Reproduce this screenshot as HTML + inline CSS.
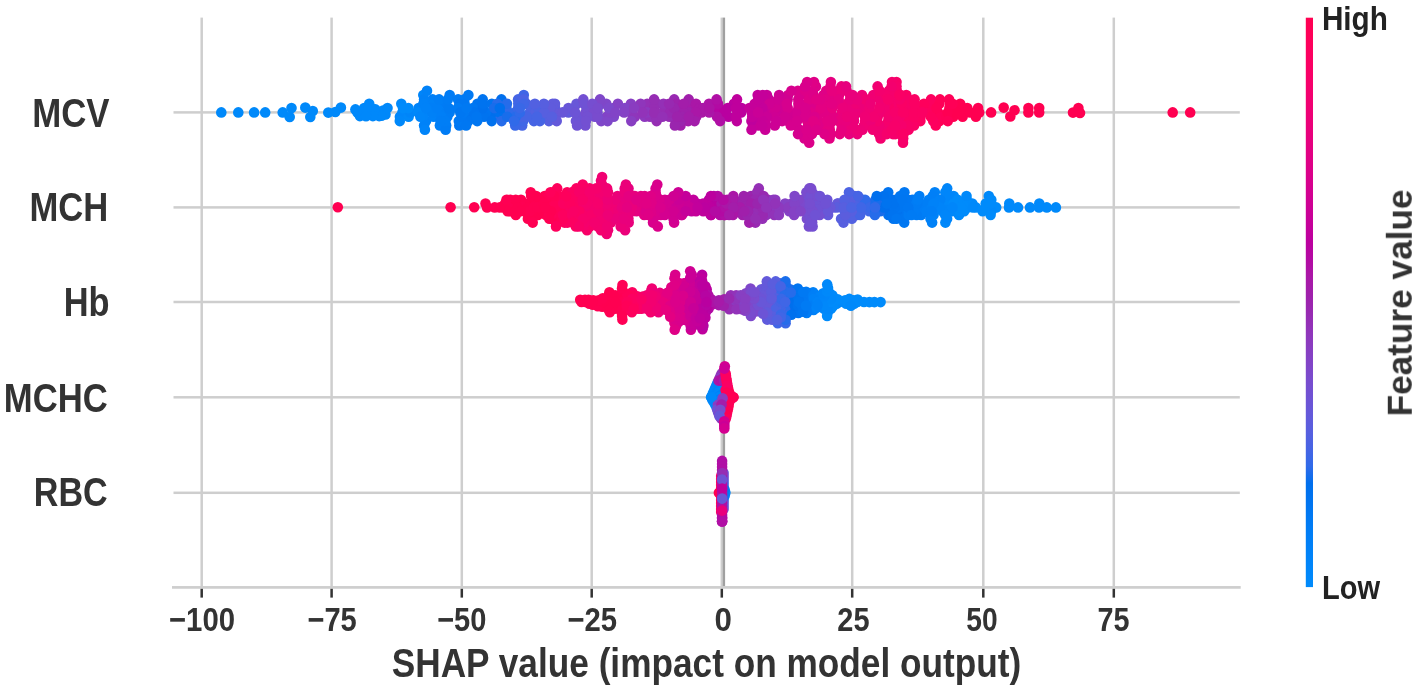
<!DOCTYPE html>
<html><head><meta charset="utf-8"><title>SHAP summary plot</title>
<style>
html,body{margin:0;padding:0;background:#fff;}
svg{display:block}
text{font-family:"Liberation Sans",sans-serif;font-weight:bold;}
</style></head><body>
<svg width="1417" height="690" viewBox="0 0 1417 690">
<rect x="0" y="0" width="1417" height="690" fill="#fff"/>
<rect x="200.45" y="17.6" width="2.5" height="569.60" fill="#cecece"/>
<rect x="330.35" y="17.6" width="2.5" height="569.60" fill="#cecece"/>
<rect x="460.55" y="17.6" width="2.5" height="569.60" fill="#cecece"/>
<rect x="590.45" y="17.6" width="2.5" height="569.60" fill="#cecece"/>
<rect x="720.55" y="17.6" width="2.5" height="569.60" fill="#cecece"/>
<rect x="850.95" y="17.6" width="2.5" height="569.60" fill="#cecece"/>
<rect x="982.05" y="17.6" width="2.5" height="569.60" fill="#cecece"/>
<rect x="1112.55" y="17.6" width="2.5" height="569.60" fill="#cecece"/>
<rect x="722.8" y="17.6" width="2.3" height="569.60" fill="#a0a0a0"/>
<rect x="173.5" y="111.15" width="1066.30" height="2.5" fill="#cecece"/>
<rect x="173.5" y="206.15" width="1066.30" height="2.5" fill="#cecece"/>
<rect x="173.5" y="300.75" width="1066.30" height="2.5" fill="#cecece"/>
<rect x="173.5" y="396.05" width="1066.30" height="2.5" fill="#cecece"/>
<rect x="173.5" y="491.55" width="1066.30" height="2.5" fill="#cecece"/>
<rect x="172.0" y="586.05" width="1068.70" height="2.7" fill="#cecece"/>
<rect x="200.45" y="588.8" width="2.5" height="8.8" fill="#333"/>
<rect x="330.35" y="588.8" width="2.5" height="8.8" fill="#333"/>
<rect x="460.55" y="588.8" width="2.5" height="8.8" fill="#333"/>
<rect x="590.45" y="588.8" width="2.5" height="8.8" fill="#333"/>
<rect x="720.55" y="588.8" width="2.5" height="8.8" fill="#333"/>
<rect x="850.95" y="588.8" width="2.5" height="8.8" fill="#333"/>
<rect x="982.05" y="588.8" width="2.5" height="8.8" fill="#333"/>
<rect x="1112.55" y="588.8" width="2.5" height="8.8" fill="#333"/>
<circle cx="849.5" cy="215.0" r="5.3" fill="#5261e1"/>
<circle cx="788.1" cy="121.1" r="5.3" fill="#d6008e"/>
<circle cx="665.4" cy="203.6" r="5.3" fill="#d10091"/>
<circle cx="849.1" cy="134.1" r="5.3" fill="#e7007e"/>
<circle cx="921.1" cy="215.0" r="5.3" fill="#007cf5"/>
<circle cx="654.6" cy="203.6" r="5.3" fill="#db008a"/>
<circle cx="828.1" cy="215.0" r="5.3" fill="#6459da"/>
<circle cx="745.8" cy="296.2" r="5.3" fill="#8244c7"/>
<circle cx="659.3" cy="302.0" r="5.3" fill="#eb007a"/>
<circle cx="690.1" cy="298.6" r="5.3" fill="#ca0097"/>
<circle cx="632.2" cy="302.0" r="5.3" fill="#fc0061"/>
<circle cx="700.1" cy="311.7" r="5.3" fill="#bc009f"/>
<circle cx="903.8" cy="121.1" r="5.3" fill="#fb0063"/>
<circle cx="574.1" cy="203.6" r="5.3" fill="#fc0061"/>
<circle cx="546.0" cy="215.0" r="5.3" fill="#ff0056"/>
<circle cx="490.3" cy="116.7" r="5.3" fill="#0073ef"/>
<circle cx="812.1" cy="192.2" r="5.3" fill="#7350d2"/>
<circle cx="574.2" cy="108.1" r="5.3" fill="#6f52d4"/>
<circle cx="589.8" cy="226.4" r="5.3" fill="#f7006a"/>
<circle cx="594.8" cy="116.7" r="5.3" fill="#764ed0"/>
<circle cx="691.4" cy="295.2" r="5.3" fill="#ca0097"/>
<circle cx="665.9" cy="305.9" r="5.3" fill="#e9007c"/>
<circle cx="630.9" cy="103.7" r="5.3" fill="#883fc2"/>
<circle cx="687.8" cy="103.7" r="5.3" fill="#a71aa9"/>
<circle cx="813.1" cy="292.3" r="5.3" fill="#0081f7"/>
<circle cx="575.9" cy="215.0" r="5.3" fill="#fb0063"/>
<circle cx="664.9" cy="199.8" r="5.3" fill="#d40090"/>
<circle cx="567.1" cy="192.2" r="5.3" fill="#fe005c"/>
<circle cx="794.1" cy="296.1" r="5.3" fill="#006fed"/>
<circle cx="865.6" cy="112.4" r="5.3" fill="#ee0076"/>
<circle cx="642.8" cy="207.4" r="5.3" fill="#e10084"/>
<circle cx="712.8" cy="203.6" r="5.3" fill="#b900a0"/>
<circle cx="859.1" cy="203.6" r="5.3" fill="#4664e4"/>
<circle cx="964.1" cy="112.4" r="5.3" fill="#ff0051"/>
<circle cx="816.1" cy="112.4" r="5.3" fill="#df0086"/>
<circle cx="648.1" cy="199.8" r="5.3" fill="#e10084"/>
<circle cx="678.8" cy="298.9" r="5.3" fill="#db008a"/>
<circle cx="826.2" cy="90.8" r="5.3" fill="#e30082"/>
<circle cx="952.0" cy="211.2" r="5.3" fill="#0088fa"/>
<circle cx="555.0" cy="108.1" r="5.3" fill="#5b5ddd"/>
<circle cx="908.1" cy="203.6" r="5.3" fill="#0079f3"/>
<circle cx="964.2" cy="211.2" r="5.3" fill="#008bfb"/>
<circle cx="658.1" cy="299.0" r="5.3" fill="#ee0076"/>
<circle cx="665.4" cy="211.2" r="5.3" fill="#d9008c"/>
<circle cx="641.8" cy="108.1" r="5.3" fill="#8a3cc0"/>
<circle cx="691.9" cy="108.1" r="5.3" fill="#a71aa9"/>
<circle cx="581.7" cy="199.8" r="5.3" fill="#f7006a"/>
<circle cx="755.4" cy="222.6" r="5.3" fill="#9829b1"/>
<circle cx="529.1" cy="203.6" r="5.3" fill="#ff0051"/>
<circle cx="649.3" cy="211.2" r="5.3" fill="#db008a"/>
<circle cx="602.3" cy="188.4" r="5.3" fill="#f4006e"/>
<circle cx="698.9" cy="315.0" r="5.3" fill="#c5009a"/>
<circle cx="812.6" cy="226.4" r="5.3" fill="#7350d2"/>
<circle cx="659.5" cy="305.4" r="5.3" fill="#e9007c"/>
<circle cx="690.9" cy="329.7" r="5.3" fill="#cf0093"/>
<circle cx="701.8" cy="295.2" r="5.3" fill="#c2009c"/>
<circle cx="932.1" cy="108.1" r="5.3" fill="#ff005a"/>
<circle cx="841.8" cy="125.4" r="5.3" fill="#e50080"/>
<circle cx="829.7" cy="305.4" r="5.3" fill="#008bfb"/>
<circle cx="791.3" cy="311.5" r="5.3" fill="#186deb"/>
<circle cx="800.0" cy="207.4" r="5.3" fill="#7d49cc"/>
<circle cx="548.9" cy="121.1" r="5.3" fill="#575fdf"/>
<circle cx="761.3" cy="289.3" r="5.3" fill="#6857d8"/>
<circle cx="888.8" cy="112.4" r="5.3" fill="#f6006c"/>
<circle cx="777.4" cy="291.7" r="5.3" fill="#5261e1"/>
<circle cx="613.8" cy="116.7" r="5.3" fill="#7f47c9"/>
<circle cx="581.8" cy="207.4" r="5.3" fill="#f80067"/>
<circle cx="683.3" cy="302.0" r="5.3" fill="#d10091"/>
<circle cx="680.2" cy="289.5" r="5.3" fill="#d6008e"/>
<circle cx="654.7" cy="199.8" r="5.3" fill="#d9008c"/>
<circle cx="699.3" cy="291.6" r="5.3" fill="#bf009d"/>
<circle cx="756.8" cy="121.1" r="5.3" fill="#c70098"/>
<circle cx="905.3" cy="103.7" r="5.3" fill="#f80067"/>
<circle cx="806.9" cy="218.8" r="5.3" fill="#794cce"/>
<circle cx="754.7" cy="196.0" r="5.3" fill="#9d22ac"/>
<circle cx="978.1" cy="108.1" r="5.3" fill="#ff0053"/>
<circle cx="1073.0" cy="112.6" r="5.3" fill="#ff0051"/>
<circle cx="559.0" cy="199.8" r="5.3" fill="#ff005a"/>
<circle cx="622.0" cy="211.2" r="5.3" fill="#eb007a"/>
<circle cx="953.3" cy="116.7" r="5.3" fill="#ff0051"/>
<circle cx="783.0" cy="207.4" r="5.3" fill="#8542c5"/>
<circle cx="758.0" cy="311.1" r="5.3" fill="#6f52d4"/>
<circle cx="592.4" cy="108.1" r="5.3" fill="#794cce"/>
<circle cx="718.7" cy="112.4" r="5.3" fill="#b604a2"/>
<circle cx="839.8" cy="134.1" r="5.3" fill="#e7007e"/>
<circle cx="1009.3" cy="203.6" r="5.3" fill="#0089fa"/>
<circle cx="675.6" cy="312.4" r="5.3" fill="#df0086"/>
<circle cx="690.7" cy="288.4" r="5.3" fill="#cd0095"/>
<circle cx="564.6" cy="222.6" r="5.3" fill="#fd005f"/>
<circle cx="660.7" cy="215.0" r="5.3" fill="#d6008e"/>
<circle cx="708.9" cy="199.8" r="5.3" fill="#b900a0"/>
<circle cx="532.3" cy="211.2" r="5.3" fill="#ff0051"/>
<circle cx="613.6" cy="108.1" r="5.3" fill="#8244c7"/>
<circle cx="891.2" cy="116.7" r="5.3" fill="#f4006e"/>
<circle cx="911.6" cy="121.1" r="5.3" fill="#fb0063"/>
<circle cx="596.9" cy="196.0" r="5.3" fill="#f4006e"/>
<circle cx="649.4" cy="108.1" r="5.3" fill="#9430b6"/>
<circle cx="658.9" cy="295.9" r="5.3" fill="#ec0078"/>
<circle cx="788.1" cy="95.1" r="5.3" fill="#d40090"/>
<circle cx="694.9" cy="284.8" r="5.3" fill="#c70098"/>
<circle cx="940.0" cy="99.4" r="5.3" fill="#ff0056"/>
<circle cx="624.7" cy="188.4" r="5.3" fill="#e9007c"/>
<circle cx="623.0" cy="305.5" r="5.3" fill="#ff0058"/>
<circle cx="537.9" cy="215.0" r="5.3" fill="#ff0051"/>
<circle cx="765.2" cy="129.7" r="5.3" fill="#ca0097"/>
<circle cx="877.6" cy="86.4" r="5.3" fill="#f10072"/>
<circle cx="556.0" cy="222.6" r="5.3" fill="#fe005c"/>
<circle cx="676.0" cy="326.2" r="5.3" fill="#db008a"/>
<circle cx="934.8" cy="192.2" r="5.3" fill="#0081f7"/>
<circle cx="695.6" cy="288.9" r="5.3" fill="#c5009a"/>
<circle cx="781.0" cy="295.8" r="5.3" fill="#3968e7"/>
<circle cx="379.2" cy="116.1" r="5.3" fill="#0088fa"/>
<circle cx="953.2" cy="108.1" r="5.3" fill="#ff0051"/>
<circle cx="931.6" cy="103.7" r="5.3" fill="#fd005f"/>
<circle cx="826.0" cy="108.1" r="5.3" fill="#df0086"/>
<circle cx="676.1" cy="308.9" r="5.3" fill="#dd0088"/>
<circle cx="889.8" cy="211.2" r="5.3" fill="#0071ee"/>
<circle cx="768.1" cy="199.8" r="5.3" fill="#9430b6"/>
<circle cx="766.2" cy="215.0" r="5.3" fill="#9233b9"/>
<circle cx="863.0" cy="108.1" r="5.3" fill="#ee0076"/>
<circle cx="854.9" cy="207.4" r="5.3" fill="#5261e1"/>
<circle cx="795.2" cy="290.3" r="5.3" fill="#0073ef"/>
<circle cx="945.4" cy="222.6" r="5.3" fill="#0088fa"/>
<circle cx="724.6" cy="215.0" r="5.3" fill="#ad13a6"/>
<circle cx="475.7" cy="112.4" r="5.3" fill="#0077f2"/>
<circle cx="705.9" cy="311.4" r="5.3" fill="#b604a2"/>
<circle cx="757.5" cy="299.0" r="5.3" fill="#764ed0"/>
<circle cx="895.7" cy="199.8" r="5.3" fill="#0074f0"/>
<circle cx="674.4" cy="322.8" r="5.3" fill="#df0086"/>
<circle cx="694.8" cy="320.6" r="5.3" fill="#c70098"/>
<circle cx="679.2" cy="283.3" r="5.3" fill="#db008a"/>
<circle cx="729.9" cy="302.0" r="5.3" fill="#9829b1"/>
<circle cx="687.8" cy="302.0" r="5.3" fill="#cd0095"/>
<circle cx="622.7" cy="295.2" r="5.3" fill="#ff0056"/>
<circle cx="702.1" cy="274.8" r="5.3" fill="#b900a0"/>
<circle cx="620.4" cy="203.6" r="5.3" fill="#ec0078"/>
<circle cx="686.4" cy="292.1" r="5.3" fill="#cd0095"/>
<circle cx="924.0" cy="207.4" r="5.3" fill="#0081f7"/>
<circle cx="888.9" cy="90.8" r="5.3" fill="#f30070"/>
<circle cx="607.2" cy="218.8" r="5.3" fill="#f10072"/>
<circle cx="402.4" cy="112.4" r="5.3" fill="#0088fa"/>
<circle cx="615.0" cy="207.4" r="5.3" fill="#ee0076"/>
<circle cx="928.9" cy="199.8" r="5.3" fill="#0082f8"/>
<circle cx="632.2" cy="292.3" r="5.3" fill="#fd005f"/>
<circle cx="753.0" cy="125.4" r="5.3" fill="#c70098"/>
<circle cx="780.2" cy="283.3" r="5.3" fill="#4066e6"/>
<circle cx="1039.3" cy="203.6" r="5.3" fill="#0089fa"/>
<circle cx="894.4" cy="103.7" r="5.3" fill="#f6006c"/>
<circle cx="891.0" cy="99.4" r="5.3" fill="#f4006e"/>
<circle cx="551.7" cy="207.4" r="5.3" fill="#ff0056"/>
<circle cx="811.0" cy="203.6" r="5.3" fill="#7350d2"/>
<circle cx="508.1" cy="207.4" r="5.3" fill="#ff0051"/>
<circle cx="849.6" cy="196.0" r="5.3" fill="#4c63e3"/>
<circle cx="683.0" cy="289.5" r="5.3" fill="#d10091"/>
<circle cx="798.3" cy="309.3" r="5.3" fill="#0073ef"/>
<circle cx="494.7" cy="207.4" r="5.3" fill="#ff0053"/>
<circle cx="439.9" cy="125.4" r="5.3" fill="#007ff7"/>
<circle cx="608.5" cy="298.8" r="5.3" fill="#ff0053"/>
<circle cx="602.2" cy="306.7" r="5.3" fill="#ff0051"/>
<circle cx="769.1" cy="99.4" r="5.3" fill="#ca0097"/>
<circle cx="585.3" cy="188.4" r="5.3" fill="#f80067"/>
<circle cx="797.9" cy="90.8" r="5.3" fill="#db008a"/>
<circle cx="368.4" cy="113.1" r="5.3" fill="#0088fa"/>
<circle cx="818.1" cy="129.7" r="5.3" fill="#df0086"/>
<circle cx="375.4" cy="109.4" r="5.3" fill="#0088fa"/>
<circle cx="741.6" cy="298.6" r="5.3" fill="#8d39be"/>
<circle cx="763.3" cy="103.7" r="5.3" fill="#c70098"/>
<circle cx="781.8" cy="99.4" r="5.3" fill="#d40090"/>
<circle cx="850.2" cy="302.0" r="5.3" fill="#008bfb"/>
<circle cx="773.3" cy="199.8" r="5.3" fill="#8d39be"/>
<circle cx="857.3" cy="134.1" r="5.3" fill="#eb007a"/>
<circle cx="557.3" cy="207.4" r="5.3" fill="#ff0058"/>
<circle cx="710.8" cy="215.0" r="5.3" fill="#b604a2"/>
<circle cx="426.0" cy="121.1" r="5.3" fill="#0082f8"/>
<circle cx="770.9" cy="211.2" r="5.3" fill="#9430b6"/>
<circle cx="521.0" cy="199.8" r="5.3" fill="#ff0051"/>
<circle cx="759.1" cy="215.0" r="5.3" fill="#9a25ae"/>
<circle cx="598.0" cy="207.4" r="5.3" fill="#f4006e"/>
<circle cx="791.6" cy="295.6" r="5.3" fill="#0071ee"/>
<circle cx="690.2" cy="271.3" r="5.3" fill="#cf0093"/>
<circle cx="713.0" cy="199.8" r="5.3" fill="#b900a0"/>
<circle cx="727.2" cy="199.8" r="5.3" fill="#ad13a6"/>
<circle cx="711.3" cy="299.3" r="5.3" fill="#ad13a6"/>
<circle cx="690.7" cy="203.6" r="5.3" fill="#c70098"/>
<circle cx="919.7" cy="207.4" r="5.3" fill="#007ff7"/>
<circle cx="713.9" cy="207.4" r="5.3" fill="#b900a0"/>
<circle cx="688.7" cy="99.4" r="5.3" fill="#a01fab"/>
<circle cx="701.9" cy="319.0" r="5.3" fill="#bf009d"/>
<circle cx="675.5" cy="121.1" r="5.3" fill="#9d22ac"/>
<circle cx="833.4" cy="207.4" r="5.3" fill="#605bdc"/>
<circle cx="560.2" cy="218.8" r="5.3" fill="#ff0058"/>
<circle cx="572.5" cy="192.2" r="5.3" fill="#fb0063"/>
<circle cx="730.7" cy="211.2" r="5.3" fill="#aa17a7"/>
<circle cx="757.5" cy="292.9" r="5.3" fill="#764ed0"/>
<circle cx="678.2" cy="196.0" r="5.3" fill="#d10091"/>
<circle cx="597.5" cy="112.4" r="5.3" fill="#764ed0"/>
<circle cx="758.1" cy="108.1" r="5.3" fill="#c5009a"/>
<circle cx="775.9" cy="284.8" r="5.3" fill="#575fdf"/>
<circle cx="982.6" cy="211.2" r="5.3" fill="#008bfb"/>
<circle cx="465.3" cy="116.7" r="5.3" fill="#0077f2"/>
<circle cx="636.3" cy="207.4" r="5.3" fill="#e30082"/>
<circle cx="555.5" cy="192.2" r="5.3" fill="#fe005c"/>
<circle cx="888.4" cy="215.0" r="5.3" fill="#0071ee"/>
<circle cx="580.4" cy="188.4" r="5.3" fill="#f80067"/>
<circle cx="418.6" cy="108.1" r="5.3" fill="#0084f9"/>
<circle cx="733.9" cy="103.7" r="5.3" fill="#bc009f"/>
<circle cx="799.4" cy="116.7" r="5.3" fill="#d6008e"/>
<circle cx="772.5" cy="302.0" r="5.3" fill="#5b5ddd"/>
<circle cx="869.4" cy="302.1" r="5.3" fill="#008bfb"/>
<circle cx="693.8" cy="288.2" r="5.3" fill="#c5009a"/>
<circle cx="694.4" cy="317.5" r="5.3" fill="#c70098"/>
<circle cx="860.6" cy="211.2" r="5.3" fill="#3968e7"/>
<circle cx="827.3" cy="199.8" r="5.3" fill="#6c54d6"/>
<circle cx="794.0" cy="308.5" r="5.3" fill="#0071ee"/>
<circle cx="811.6" cy="108.1" r="5.3" fill="#df0086"/>
<circle cx="696.1" cy="295.4" r="5.3" fill="#c70098"/>
<circle cx="857.2" cy="129.7" r="5.3" fill="#ee0076"/>
<circle cx="701.7" cy="288.4" r="5.3" fill="#bc009f"/>
<circle cx="798.7" cy="291.9" r="5.3" fill="#0074f0"/>
<circle cx="553.6" cy="203.6" r="5.3" fill="#ff005a"/>
<circle cx="762.6" cy="310.8" r="5.3" fill="#6857d8"/>
<circle cx="651.9" cy="288.6" r="5.3" fill="#f10072"/>
<circle cx="608.6" cy="295.5" r="5.3" fill="#ff0053"/>
<circle cx="736.3" cy="305.6" r="5.3" fill="#8d39be"/>
<circle cx="808.1" cy="125.4" r="5.3" fill="#db008a"/>
<circle cx="622.3" cy="302.0" r="5.3" fill="#ff0056"/>
<circle cx="606.6" cy="116.7" r="5.3" fill="#8244c7"/>
<circle cx="785.6" cy="323.2" r="5.3" fill="#3968e7"/>
<circle cx="510.4" cy="199.8" r="5.3" fill="#ff0053"/>
<circle cx="903.2" cy="138.4" r="5.3" fill="#f7006a"/>
<circle cx="776.1" cy="302.0" r="5.3" fill="#575fdf"/>
<circle cx="862.8" cy="199.8" r="5.3" fill="#4664e4"/>
<circle cx="581.7" cy="196.0" r="5.3" fill="#f7006a"/>
<circle cx="666.3" cy="295.9" r="5.3" fill="#e50080"/>
<circle cx="802.5" cy="295.5" r="5.3" fill="#0077f2"/>
<circle cx="904.4" cy="121.1" r="5.3" fill="#fa0065"/>
<circle cx="578.0" cy="116.7" r="5.3" fill="#6f52d4"/>
<circle cx="864.0" cy="125.4" r="5.3" fill="#ee0076"/>
<circle cx="371.8" cy="108.6" r="5.3" fill="#0088fa"/>
<circle cx="870.0" cy="203.6" r="5.3" fill="#3968e7"/>
<circle cx="777.4" cy="295.1" r="5.3" fill="#4664e4"/>
<circle cx="683.1" cy="312.6" r="5.3" fill="#d40090"/>
<circle cx="422.8" cy="116.7" r="5.3" fill="#0084f9"/>
<circle cx="265.2" cy="112.4" r="5.3" fill="#0089fa"/>
<circle cx="1039.2" cy="108.1" r="5.3" fill="#ff0051"/>
<circle cx="499.8" cy="116.7" r="5.3" fill="#266cea"/>
<circle cx="541.0" cy="116.7" r="5.3" fill="#5261e1"/>
<circle cx="802.2" cy="199.8" r="5.3" fill="#794cce"/>
<circle cx="661.6" cy="295.3" r="5.3" fill="#e9007c"/>
<circle cx="847.0" cy="103.7" r="5.3" fill="#eb007a"/>
<circle cx="754.4" cy="305.2" r="5.3" fill="#794cce"/>
<circle cx="503.7" cy="207.4" r="5.3" fill="#ff0051"/>
<circle cx="734.5" cy="203.6" r="5.3" fill="#a71aa9"/>
<circle cx="801.2" cy="203.6" r="5.3" fill="#7d49cc"/>
<circle cx="647.2" cy="103.7" r="5.3" fill="#9430b6"/>
<circle cx="702.2" cy="281.6" r="5.3" fill="#bc009f"/>
<circle cx="737.6" cy="211.2" r="5.3" fill="#a31daa"/>
<circle cx="789.2" cy="211.2" r="5.3" fill="#8542c5"/>
<circle cx="515.8" cy="215.0" r="5.3" fill="#ff0053"/>
<circle cx="892.5" cy="108.1" r="5.3" fill="#f4006e"/>
<circle cx="622.6" cy="199.8" r="5.3" fill="#e9007c"/>
<circle cx="679.0" cy="305.3" r="5.3" fill="#d6008e"/>
<circle cx="581.5" cy="302.0" r="5.3" fill="#ff0051"/>
<circle cx="576.5" cy="103.7" r="5.3" fill="#6857d8"/>
<circle cx="785.0" cy="112.4" r="5.3" fill="#d40090"/>
<circle cx="884.3" cy="108.1" r="5.3" fill="#f30070"/>
<circle cx="616.1" cy="298.6" r="5.3" fill="#ff0053"/>
<circle cx="906.3" cy="95.1" r="5.3" fill="#fb0063"/>
<circle cx="896.8" cy="99.4" r="5.3" fill="#f6006c"/>
<circle cx="856.7" cy="199.8" r="5.3" fill="#4664e4"/>
<circle cx="758.3" cy="125.4" r="5.3" fill="#c70098"/>
<circle cx="947.2" cy="188.4" r="5.3" fill="#0085f9"/>
<circle cx="446.2" cy="125.4" r="5.3" fill="#007ff7"/>
<circle cx="718.9" cy="108.1" r="5.3" fill="#b604a2"/>
<circle cx="724.1" cy="112.4" r="5.3" fill="#b900a0"/>
<circle cx="842.7" cy="116.7" r="5.3" fill="#e7007e"/>
<circle cx="585.6" cy="112.4" r="5.3" fill="#764ed0"/>
<circle cx="939.6" cy="121.1" r="5.3" fill="#ff0056"/>
<circle cx="837.5" cy="203.6" r="5.3" fill="#5b5ddd"/>
<circle cx="908.0" cy="116.7" r="5.3" fill="#fb0063"/>
<circle cx="841.0" cy="203.6" r="5.3" fill="#5b5ddd"/>
<circle cx="768.3" cy="298.6" r="5.3" fill="#605bdc"/>
<circle cx="728.1" cy="211.2" r="5.3" fill="#ad13a6"/>
<circle cx="517.6" cy="203.6" r="5.3" fill="#ff0053"/>
<circle cx="780.2" cy="103.7" r="5.3" fill="#d10091"/>
<circle cx="720.0" cy="215.0" r="5.3" fill="#b30aa3"/>
<circle cx="676.6" cy="199.8" r="5.3" fill="#d10091"/>
<circle cx="684.3" cy="203.6" r="5.3" fill="#cd0095"/>
<circle cx="526.4" cy="103.7" r="5.3" fill="#4664e4"/>
<circle cx="528.1" cy="215.0" r="5.3" fill="#ff0051"/>
<circle cx="826.4" cy="295.0" r="5.3" fill="#0088fa"/>
<circle cx="807.2" cy="121.1" r="5.3" fill="#df0086"/>
<circle cx="575.9" cy="121.1" r="5.3" fill="#6c54d6"/>
<circle cx="767.5" cy="284.8" r="5.3" fill="#6857d8"/>
<circle cx="831.0" cy="308.7" r="5.3" fill="#008bfb"/>
<circle cx="706.7" cy="289.4" r="5.3" fill="#b900a0"/>
<circle cx="585.4" cy="125.4" r="5.3" fill="#7350d2"/>
<circle cx="592.7" cy="218.8" r="5.3" fill="#f6006c"/>
<circle cx="899.5" cy="108.1" r="5.3" fill="#f7006a"/>
<circle cx="532.7" cy="199.8" r="5.3" fill="#ff0051"/>
<circle cx="659.9" cy="292.9" r="5.3" fill="#e9007c"/>
<circle cx="614.9" cy="308.7" r="5.3" fill="#ff0051"/>
<circle cx="537.4" cy="211.2" r="5.3" fill="#ff0053"/>
<circle cx="949.4" cy="108.1" r="5.3" fill="#ff0058"/>
<circle cx="841.7" cy="112.4" r="5.3" fill="#eb007a"/>
<circle cx="817.9" cy="203.6" r="5.3" fill="#6f52d4"/>
<circle cx="655.5" cy="302.0" r="5.3" fill="#ec0078"/>
<circle cx="790.4" cy="302.0" r="5.3" fill="#006fed"/>
<circle cx="518.1" cy="99.4" r="5.3" fill="#4664e4"/>
<circle cx="787.6" cy="99.4" r="5.3" fill="#d10091"/>
<circle cx="827.6" cy="312.5" r="5.3" fill="#0088fa"/>
<circle cx="932.1" cy="222.6" r="5.3" fill="#0081f7"/>
<circle cx="988.8" cy="196.0" r="5.3" fill="#0089fa"/>
<circle cx="756.4" cy="211.2" r="5.3" fill="#962db3"/>
<circle cx="809.3" cy="188.4" r="5.3" fill="#794cce"/>
<circle cx="399.9" cy="116.7" r="5.3" fill="#0086fa"/>
<circle cx="711.1" cy="215.0" r="5.3" fill="#bc009f"/>
<circle cx="776.3" cy="288.3" r="5.3" fill="#4664e4"/>
<circle cx="903.7" cy="129.7" r="5.3" fill="#f80067"/>
<circle cx="656.6" cy="121.1" r="5.3" fill="#962db3"/>
<circle cx="771.3" cy="312.6" r="5.3" fill="#5b5ddd"/>
<circle cx="774.8" cy="125.4" r="5.3" fill="#cd0095"/>
<circle cx="650.8" cy="291.9" r="5.3" fill="#f00074"/>
<circle cx="807.5" cy="302.0" r="5.3" fill="#007ef6"/>
<circle cx="702.5" cy="329.2" r="5.3" fill="#bf009d"/>
<circle cx="776.6" cy="112.4" r="5.3" fill="#cd0095"/>
<circle cx="810.5" cy="296.2" r="5.3" fill="#007cf5"/>
<circle cx="683.2" cy="207.4" r="5.3" fill="#cf0093"/>
<circle cx="784.9" cy="288.3" r="5.3" fill="#306ae9"/>
<circle cx="802.4" cy="308.5" r="5.3" fill="#0077f2"/>
<circle cx="857.4" cy="112.4" r="5.3" fill="#ec0078"/>
<circle cx="555.5" cy="116.7" r="5.3" fill="#5b5ddd"/>
<circle cx="591.1" cy="211.2" r="5.3" fill="#f4006e"/>
<circle cx="510.3" cy="211.2" r="5.3" fill="#ff0051"/>
<circle cx="862.0" cy="95.1" r="5.3" fill="#ee0076"/>
<circle cx="817.3" cy="298.6" r="5.3" fill="#0081f7"/>
<circle cx="798.5" cy="108.1" r="5.3" fill="#d9008c"/>
<circle cx="492.3" cy="112.4" r="5.3" fill="#006fed"/>
<circle cx="796.1" cy="125.4" r="5.3" fill="#d9008c"/>
<circle cx="760.2" cy="99.4" r="5.3" fill="#c5009a"/>
<circle cx="813.6" cy="309.9" r="5.3" fill="#0081f7"/>
<circle cx="798.3" cy="99.4" r="5.3" fill="#d6008e"/>
<circle cx="734.3" cy="199.8" r="5.3" fill="#a71aa9"/>
<circle cx="590.1" cy="203.6" r="5.3" fill="#f7006a"/>
<circle cx="644.7" cy="116.7" r="5.3" fill="#8d39be"/>
<circle cx="464.3" cy="99.4" r="5.3" fill="#0079f3"/>
<circle cx="687.9" cy="305.1" r="5.3" fill="#cf0093"/>
<circle cx="762.5" cy="304.9" r="5.3" fill="#6f52d4"/>
<circle cx="566.6" cy="207.4" r="5.3" fill="#fc0061"/>
<circle cx="585.0" cy="299.8" r="5.3" fill="#ff0051"/>
<circle cx="674.3" cy="215.0" r="5.3" fill="#cd0095"/>
<circle cx="912.3" cy="199.8" r="5.3" fill="#0079f3"/>
<circle cx="900.1" cy="203.6" r="5.3" fill="#0077f2"/>
<circle cx="901.7" cy="215.0" r="5.3" fill="#0076f1"/>
<circle cx="718.9" cy="300.3" r="5.3" fill="#a31daa"/>
<circle cx="696.9" cy="285.6" r="5.3" fill="#c70098"/>
<circle cx="567.5" cy="222.6" r="5.3" fill="#fc0061"/>
<circle cx="626.9" cy="298.1" r="5.3" fill="#ff0056"/>
<circle cx="949.0" cy="211.2" r="5.3" fill="#0088fa"/>
<circle cx="555.7" cy="215.0" r="5.3" fill="#ff0058"/>
<circle cx="408.6" cy="116.7" r="5.3" fill="#0089fa"/>
<circle cx="729.5" cy="305.6" r="5.3" fill="#9430b6"/>
<circle cx="818.6" cy="207.4" r="5.3" fill="#7350d2"/>
<circle cx="921.5" cy="211.2" r="5.3" fill="#007ef6"/>
<circle cx="657.0" cy="103.7" r="5.3" fill="#962db3"/>
<circle cx="857.6" cy="299.5" r="5.3" fill="#008bfb"/>
<circle cx="599.8" cy="192.2" r="5.3" fill="#f30070"/>
<circle cx="822.2" cy="211.2" r="5.3" fill="#7350d2"/>
<circle cx="527.9" cy="218.8" r="5.3" fill="#ff0051"/>
<circle cx="718.8" cy="305.1" r="5.3" fill="#a71aa9"/>
<circle cx="698.9" cy="298.6" r="5.3" fill="#c2009c"/>
<circle cx="679.2" cy="286.4" r="5.3" fill="#d9008c"/>
<circle cx="706.4" cy="292.6" r="5.3" fill="#b900a0"/>
<circle cx="719.8" cy="199.8" r="5.3" fill="#b604a2"/>
<circle cx="1010.3" cy="116.5" r="5.3" fill="#ff0051"/>
<circle cx="717.0" cy="116.7" r="5.3" fill="#b00fa5"/>
<circle cx="592.8" cy="304.7" r="5.3" fill="#ff0053"/>
<circle cx="759.2" cy="211.2" r="5.3" fill="#9430b6"/>
<circle cx="962.0" cy="203.6" r="5.3" fill="#008bfb"/>
<circle cx="819.8" cy="112.4" r="5.3" fill="#e10084"/>
<circle cx="1014.5" cy="110.2" r="5.3" fill="#ff0051"/>
<circle cx="865.1" cy="121.1" r="5.3" fill="#f00074"/>
<circle cx="681.4" cy="215.0" r="5.3" fill="#cf0093"/>
<circle cx="913.7" cy="108.1" r="5.3" fill="#fb0063"/>
<circle cx="786.5" cy="316.1" r="5.3" fill="#306ae9"/>
<circle cx="650.0" cy="116.7" r="5.3" fill="#9233b9"/>
<circle cx="894.2" cy="125.4" r="5.3" fill="#f4006e"/>
<circle cx="920.4" cy="121.1" r="5.3" fill="#fc0061"/>
<circle cx="762.9" cy="292.5" r="5.3" fill="#6857d8"/>
<circle cx="781.8" cy="320.7" r="5.3" fill="#3968e7"/>
<circle cx="674.2" cy="99.4" r="5.3" fill="#9829b1"/>
<circle cx="505.1" cy="203.6" r="5.3" fill="#ff0053"/>
<circle cx="702.5" cy="322.4" r="5.3" fill="#bf009d"/>
<circle cx="935.8" cy="125.4" r="5.3" fill="#fe005c"/>
<circle cx="767.5" cy="211.2" r="5.3" fill="#8f36bb"/>
<circle cx="695.6" cy="311.6" r="5.3" fill="#ca0097"/>
<circle cx="585.6" cy="211.2" r="5.3" fill="#f80067"/>
<circle cx="655.5" cy="310.7" r="5.3" fill="#f00074"/>
<circle cx="815.9" cy="86.4" r="5.3" fill="#dd0088"/>
<circle cx="810.3" cy="302.0" r="5.3" fill="#007bf4"/>
<circle cx="914.5" cy="207.4" r="5.3" fill="#007bf4"/>
<circle cx="682.7" cy="309.1" r="5.3" fill="#d6008e"/>
<circle cx="282.7" cy="112.4" r="5.3" fill="#0089fa"/>
<circle cx="586.7" cy="108.1" r="5.3" fill="#7350d2"/>
<circle cx="804.5" cy="138.4" r="5.3" fill="#d9008c"/>
<circle cx="811.6" cy="199.8" r="5.3" fill="#764ed0"/>
<circle cx="662.1" cy="308.7" r="5.3" fill="#e7007e"/>
<circle cx="700.3" cy="288.2" r="5.3" fill="#bf009d"/>
<circle cx="810.2" cy="215.0" r="5.3" fill="#764ed0"/>
<circle cx="991.3" cy="199.8" r="5.3" fill="#008bfb"/>
<circle cx="572.3" cy="192.2" r="5.3" fill="#fb0063"/>
<circle cx="932.7" cy="199.8" r="5.3" fill="#0082f8"/>
<circle cx="691.6" cy="211.2" r="5.3" fill="#c2009c"/>
<circle cx="544.6" cy="196.0" r="5.3" fill="#ff0051"/>
<circle cx="522.2" cy="125.4" r="5.3" fill="#4664e4"/>
<circle cx="636.6" cy="302.0" r="5.3" fill="#fc0061"/>
<circle cx="617.9" cy="103.7" r="5.3" fill="#8542c5"/>
<circle cx="509.7" cy="207.4" r="5.3" fill="#ff0051"/>
<circle cx="754.6" cy="308.5" r="5.3" fill="#764ed0"/>
<circle cx="811.6" cy="207.4" r="5.3" fill="#794cce"/>
<circle cx="523.2" cy="121.1" r="5.3" fill="#4066e6"/>
<circle cx="585.4" cy="302.0" r="5.3" fill="#ff0053"/>
<circle cx="477.4" cy="103.7" r="5.3" fill="#0074f0"/>
<circle cx="888.2" cy="192.2" r="5.3" fill="#0073ef"/>
<circle cx="962.6" cy="116.7" r="5.3" fill="#ff0051"/>
<circle cx="893.0" cy="121.1" r="5.3" fill="#f6006c"/>
<circle cx="803.4" cy="298.8" r="5.3" fill="#0077f2"/>
<circle cx="410.2" cy="112.4" r="5.3" fill="#0085f9"/>
<circle cx="888.2" cy="121.1" r="5.3" fill="#f4006e"/>
<circle cx="814.2" cy="211.2" r="5.3" fill="#764ed0"/>
<circle cx="762.9" cy="116.7" r="5.3" fill="#ca0097"/>
<circle cx="900.8" cy="95.1" r="5.3" fill="#f80067"/>
<circle cx="785.9" cy="309.1" r="5.3" fill="#306ae9"/>
<circle cx="845.4" cy="112.4" r="5.3" fill="#e9007c"/>
<circle cx="668.0" cy="203.6" r="5.3" fill="#d10091"/>
<circle cx="697.1" cy="203.6" r="5.3" fill="#c2009c"/>
<circle cx="877.7" cy="116.7" r="5.3" fill="#f10072"/>
<circle cx="892.4" cy="199.8" r="5.3" fill="#0071ee"/>
<circle cx="669.5" cy="207.4" r="5.3" fill="#cf0093"/>
<circle cx="653.1" cy="215.0" r="5.3" fill="#db008a"/>
<circle cx="578.2" cy="203.6" r="5.3" fill="#f80067"/>
<circle cx="437.7" cy="103.7" r="5.3" fill="#007ff7"/>
<circle cx="757.4" cy="302.0" r="5.3" fill="#7350d2"/>
<circle cx="775.7" cy="281.4" r="5.3" fill="#575fdf"/>
<circle cx="666.7" cy="302.0" r="5.3" fill="#e50080"/>
<circle cx="806.8" cy="95.1" r="5.3" fill="#d9008c"/>
<circle cx="811.0" cy="293.3" r="5.3" fill="#007ff7"/>
<circle cx="849.8" cy="125.4" r="5.3" fill="#e7007e"/>
<circle cx="554.4" cy="112.4" r="5.3" fill="#6459da"/>
<circle cx="862.5" cy="129.7" r="5.3" fill="#ee0076"/>
<circle cx="615.3" cy="305.4" r="5.3" fill="#ff0051"/>
<circle cx="525.0" cy="203.6" r="5.3" fill="#ff0051"/>
<circle cx="408.4" cy="108.1" r="5.3" fill="#008bfb"/>
<circle cx="719.8" cy="207.4" r="5.3" fill="#b604a2"/>
<circle cx="942.2" cy="203.6" r="5.3" fill="#0085f9"/>
<circle cx="823.3" cy="302.0" r="5.3" fill="#0086fa"/>
<circle cx="758.8" cy="188.4" r="5.3" fill="#9430b6"/>
<circle cx="897.0" cy="116.7" r="5.3" fill="#f80067"/>
<circle cx="585.9" cy="196.0" r="5.3" fill="#f7006a"/>
<circle cx="967.3" cy="108.1" r="5.3" fill="#ff0051"/>
<circle cx="1039.2" cy="112.4" r="5.3" fill="#ff0051"/>
<circle cx="310.3" cy="117.0" r="5.3" fill="#0089fa"/>
<circle cx="432.6" cy="99.4" r="5.3" fill="#007ff7"/>
<circle cx="931.0" cy="112.4" r="5.3" fill="#fd005f"/>
<circle cx="662.3" cy="305.4" r="5.3" fill="#e7007e"/>
<circle cx="900.2" cy="196.0" r="5.3" fill="#0076f1"/>
<circle cx="425.3" cy="112.4" r="5.3" fill="#0084f9"/>
<circle cx="654.1" cy="108.1" r="5.3" fill="#962db3"/>
<circle cx="908.5" cy="99.4" r="5.3" fill="#f80067"/>
<circle cx="693.4" cy="199.8" r="5.3" fill="#c2009c"/>
<circle cx="829.5" cy="95.1" r="5.3" fill="#e10084"/>
<circle cx="846.2" cy="303.7" r="5.3" fill="#008bfb"/>
<circle cx="813.7" cy="302.0" r="5.3" fill="#0081f7"/>
<circle cx="696.8" cy="314.8" r="5.3" fill="#c2009c"/>
<circle cx="806.0" cy="112.4" r="5.3" fill="#d9008c"/>
<circle cx="715.8" cy="203.6" r="5.3" fill="#b900a0"/>
<circle cx="810.9" cy="299.1" r="5.3" fill="#007ef6"/>
<circle cx="824.0" cy="308.7" r="5.3" fill="#0088fa"/>
<circle cx="926.1" cy="203.6" r="5.3" fill="#007ef6"/>
<circle cx="602.0" cy="184.6" r="5.3" fill="#f10072"/>
<circle cx="920.6" cy="116.7" r="5.3" fill="#fc0061"/>
<circle cx="854.2" cy="108.1" r="5.3" fill="#eb007a"/>
<circle cx="778.7" cy="103.7" r="5.3" fill="#d10091"/>
<circle cx="418.3" cy="112.4" r="5.3" fill="#0088fa"/>
<circle cx="894.9" cy="108.1" r="5.3" fill="#f80067"/>
<circle cx="767.2" cy="319.6" r="5.3" fill="#605bdc"/>
<circle cx="518.2" cy="108.1" r="5.3" fill="#4066e6"/>
<circle cx="694.5" cy="281.3" r="5.3" fill="#c5009a"/>
<circle cx="685.2" cy="199.8" r="5.3" fill="#ca0097"/>
<circle cx="687.7" cy="282.3" r="5.3" fill="#d10091"/>
<circle cx="681.4" cy="203.6" r="5.3" fill="#ca0097"/>
<circle cx="649.9" cy="207.4" r="5.3" fill="#dd0088"/>
<circle cx="609.4" cy="292.3" r="5.3" fill="#ff0051"/>
<circle cx="617.4" cy="196.0" r="5.3" fill="#ec0078"/>
<circle cx="751.8" cy="112.4" r="5.3" fill="#c5009a"/>
<circle cx="601.5" cy="222.6" r="5.3" fill="#f30070"/>
<circle cx="722.7" cy="207.4" r="5.3" fill="#b30aa3"/>
<circle cx="702.3" cy="305.4" r="5.3" fill="#c2009c"/>
<circle cx="621.8" cy="312.6" r="5.3" fill="#ff0051"/>
<circle cx="553.0" cy="192.2" r="5.3" fill="#ff0056"/>
<circle cx="533.9" cy="121.1" r="5.3" fill="#4664e4"/>
<circle cx="534.6" cy="199.8" r="5.3" fill="#ff0051"/>
<circle cx="906.9" cy="108.1" r="5.3" fill="#f80067"/>
<circle cx="515.2" cy="125.4" r="5.3" fill="#3968e7"/>
<circle cx="772.7" cy="287.8" r="5.3" fill="#5261e1"/>
<circle cx="447.3" cy="116.7" r="5.3" fill="#007cf5"/>
<circle cx="711.6" cy="304.7" r="5.3" fill="#ad13a6"/>
<circle cx="818.6" cy="121.1" r="5.3" fill="#e30082"/>
<circle cx="599.6" cy="207.4" r="5.3" fill="#f4006e"/>
<circle cx="513.1" cy="203.6" r="5.3" fill="#ff0053"/>
<circle cx="703.1" cy="302.0" r="5.3" fill="#bc009f"/>
<circle cx="885.1" cy="125.4" r="5.3" fill="#f6006c"/>
<circle cx="741.6" cy="108.1" r="5.3" fill="#bc009f"/>
<circle cx="568.5" cy="112.4" r="5.3" fill="#605bdc"/>
<circle cx="708.5" cy="308.7" r="5.3" fill="#b30aa3"/>
<circle cx="544.7" cy="199.8" r="5.3" fill="#ff0056"/>
<circle cx="653.3" cy="218.8" r="5.3" fill="#db008a"/>
<circle cx="938.1" cy="112.4" r="5.3" fill="#ff0056"/>
<circle cx="385.5" cy="114.4" r="5.3" fill="#0088fa"/>
<circle cx="672.6" cy="199.8" r="5.3" fill="#d40090"/>
<circle cx="815.9" cy="103.7" r="5.3" fill="#db008a"/>
<circle cx="601.2" cy="121.1" r="5.3" fill="#7f47c9"/>
<circle cx="853.4" cy="300.3" r="5.3" fill="#008bfb"/>
<circle cx="337.8" cy="207.3" r="5.3" fill="#ff0051"/>
<circle cx="1028.4" cy="112.4" r="5.3" fill="#ff0051"/>
<circle cx="785.6" cy="284.8" r="5.3" fill="#306ae9"/>
<circle cx="756.9" cy="116.7" r="5.3" fill="#c5009a"/>
<circle cx="766.8" cy="288.3" r="5.3" fill="#6459da"/>
<circle cx="788.9" cy="116.7" r="5.3" fill="#d10091"/>
<circle cx="705.4" cy="286.3" r="5.3" fill="#bc009f"/>
<circle cx="776.0" cy="305.5" r="5.3" fill="#5261e1"/>
<circle cx="670.5" cy="302.0" r="5.3" fill="#e30082"/>
<circle cx="536.1" cy="215.0" r="5.3" fill="#ff0051"/>
<circle cx="749.6" cy="309.0" r="5.3" fill="#7d49cc"/>
<circle cx="699.1" cy="295.1" r="5.3" fill="#c2009c"/>
<circle cx="922.3" cy="108.1" r="5.3" fill="#fb0063"/>
<circle cx="830.1" cy="99.4" r="5.3" fill="#e30082"/>
<circle cx="522.6" cy="207.4" r="5.3" fill="#ff0053"/>
<circle cx="678.8" cy="321.7" r="5.3" fill="#d9008c"/>
<circle cx="688.2" cy="121.1" r="5.3" fill="#a31daa"/>
<circle cx="614.4" cy="203.6" r="5.3" fill="#f00074"/>
<circle cx="823.5" cy="95.1" r="5.3" fill="#df0086"/>
<circle cx="340.9" cy="107.6" r="5.3" fill="#0089fa"/>
<circle cx="718.6" cy="211.2" r="5.3" fill="#b00fa5"/>
<circle cx="474.2" cy="207.3" r="5.3" fill="#ff0051"/>
<circle cx="766.9" cy="291.7" r="5.3" fill="#6459da"/>
<circle cx="445.6" cy="103.7" r="5.3" fill="#007cf5"/>
<circle cx="646.9" cy="112.4" r="5.3" fill="#8d39be"/>
<circle cx="917.5" cy="203.6" r="5.3" fill="#007cf5"/>
<circle cx="608.0" cy="230.2" r="5.3" fill="#ee0076"/>
<circle cx="733.3" cy="196.0" r="5.3" fill="#aa17a7"/>
<circle cx="682.8" cy="316.2" r="5.3" fill="#d40090"/>
<circle cx="795.0" cy="311.7" r="5.3" fill="#0073ef"/>
<circle cx="686.6" cy="288.9" r="5.3" fill="#cf0093"/>
<circle cx="869.2" cy="211.2" r="5.3" fill="#4066e6"/>
<circle cx="914.9" cy="199.8" r="5.3" fill="#007bf4"/>
<circle cx="713.9" cy="196.0" r="5.3" fill="#b30aa3"/>
<circle cx="464.6" cy="103.7" r="5.3" fill="#0077f2"/>
<circle cx="865.1" cy="199.8" r="5.3" fill="#306ae9"/>
<circle cx="369.2" cy="103.8" r="5.3" fill="#0088fa"/>
<circle cx="680.5" cy="125.4" r="5.3" fill="#a01fab"/>
<circle cx="607.6" cy="121.1" r="5.3" fill="#7f47c9"/>
<circle cx="751.0" cy="196.0" r="5.3" fill="#9a25ae"/>
<circle cx="771.6" cy="305.5" r="5.3" fill="#575fdf"/>
<circle cx="900.7" cy="211.2" r="5.3" fill="#0077f2"/>
<circle cx="838.2" cy="103.7" r="5.3" fill="#e50080"/>
<circle cx="549.9" cy="112.4" r="5.3" fill="#605bdc"/>
<circle cx="827.9" cy="116.7" r="5.3" fill="#e30082"/>
<circle cx="540.0" cy="108.1" r="5.3" fill="#575fdf"/>
<circle cx="904.8" cy="112.4" r="5.3" fill="#f80067"/>
<circle cx="696.0" cy="103.7" r="5.3" fill="#aa17a7"/>
<circle cx="657.3" cy="184.6" r="5.3" fill="#d9008c"/>
<circle cx="949.1" cy="203.6" r="5.3" fill="#0086fa"/>
<circle cx="896.5" cy="82.1" r="5.3" fill="#f80067"/>
<circle cx="378.0" cy="112.6" r="5.3" fill="#0088fa"/>
<circle cx="931.0" cy="99.4" r="5.3" fill="#fd005f"/>
<circle cx="335.3" cy="112.0" r="5.3" fill="#0089fa"/>
<circle cx="540.1" cy="203.6" r="5.3" fill="#ff0051"/>
<circle cx="824.3" cy="299.1" r="5.3" fill="#0088fa"/>
<circle cx="820.3" cy="203.6" r="5.3" fill="#6f52d4"/>
<circle cx="895.4" cy="134.1" r="5.3" fill="#f7006a"/>
<circle cx="898.7" cy="103.7" r="5.3" fill="#f6006c"/>
<circle cx="780.0" cy="289.5" r="5.3" fill="#4c63e3"/>
<circle cx="761.3" cy="307.9" r="5.3" fill="#6857d8"/>
<circle cx="542.4" cy="211.2" r="5.3" fill="#ff0051"/>
<circle cx="798.8" cy="295.3" r="5.3" fill="#0076f1"/>
<circle cx="596.1" cy="199.8" r="5.3" fill="#f30070"/>
<circle cx="485.9" cy="112.4" r="5.3" fill="#0074f0"/>
<circle cx="796.1" cy="112.4" r="5.3" fill="#d40090"/>
<circle cx="988.6" cy="207.4" r="5.3" fill="#0089fa"/>
<circle cx="606.6" cy="196.0" r="5.3" fill="#f30070"/>
<circle cx="529.9" cy="112.4" r="5.3" fill="#4664e4"/>
<circle cx="706.1" cy="308.3" r="5.3" fill="#b604a2"/>
<circle cx="819.7" cy="215.0" r="5.3" fill="#7350d2"/>
<circle cx="646.1" cy="302.0" r="5.3" fill="#f4006e"/>
<circle cx="723.2" cy="302.0" r="5.3" fill="#9a25ae"/>
<circle cx="740.4" cy="305.6" r="5.3" fill="#8a3cc0"/>
<circle cx="676.3" cy="288.4" r="5.3" fill="#dd0088"/>
<circle cx="640.9" cy="196.0" r="5.3" fill="#e30082"/>
<circle cx="798.4" cy="103.7" r="5.3" fill="#d9008c"/>
<circle cx="622.4" cy="319.6" r="5.3" fill="#ff0056"/>
<circle cx="593.5" cy="112.4" r="5.3" fill="#794cce"/>
<circle cx="939.3" cy="103.7" r="5.3" fill="#ff0058"/>
<circle cx="701.6" cy="112.4" r="5.3" fill="#aa17a7"/>
<circle cx="433.6" cy="116.7" r="5.3" fill="#0082f8"/>
<circle cx="940.3" cy="116.7" r="5.3" fill="#ff005a"/>
<circle cx="869.7" cy="125.4" r="5.3" fill="#f00074"/>
<circle cx="440.9" cy="112.4" r="5.3" fill="#007ef6"/>
<circle cx="557.2" cy="188.4" r="5.3" fill="#fe005c"/>
<circle cx="830.9" cy="112.4" r="5.3" fill="#e30082"/>
<circle cx="589.4" cy="303.7" r="5.3" fill="#ff0053"/>
<circle cx="676.7" cy="103.7" r="5.3" fill="#9d22ac"/>
<circle cx="768.0" cy="302.0" r="5.3" fill="#605bdc"/>
<circle cx="904.4" cy="192.2" r="5.3" fill="#0077f2"/>
<circle cx="914.0" cy="125.4" r="5.3" fill="#fa0065"/>
<circle cx="975.9" cy="207.4" r="5.3" fill="#008bfb"/>
<circle cx="916.6" cy="215.0" r="5.3" fill="#007bf4"/>
<circle cx="730.8" cy="295.3" r="5.3" fill="#9430b6"/>
<circle cx="798.4" cy="312.9" r="5.3" fill="#0074f0"/>
<circle cx="812.2" cy="222.6" r="5.3" fill="#7350d2"/>
<circle cx="893.0" cy="134.1" r="5.3" fill="#f6006c"/>
<circle cx="878.5" cy="129.7" r="5.3" fill="#f4006e"/>
<circle cx="825.6" cy="99.4" r="5.3" fill="#e30082"/>
<circle cx="757.7" cy="95.1" r="5.3" fill="#c2009c"/>
<circle cx="615.6" cy="199.8" r="5.3" fill="#ec0078"/>
<circle cx="631.1" cy="112.4" r="5.3" fill="#8d39be"/>
<circle cx="952.2" cy="199.8" r="5.3" fill="#0086fa"/>
<circle cx="680.1" cy="311.9" r="5.3" fill="#d9008c"/>
<circle cx="880.2" cy="112.4" r="5.3" fill="#f10072"/>
<circle cx="777.1" cy="312.6" r="5.3" fill="#4664e4"/>
<circle cx="694.5" cy="298.6" r="5.3" fill="#c5009a"/>
<circle cx="691.1" cy="281.5" r="5.3" fill="#ca0097"/>
<circle cx="869.9" cy="207.4" r="5.3" fill="#3968e7"/>
<circle cx="854.7" cy="196.0" r="5.3" fill="#5261e1"/>
<circle cx="515.1" cy="112.4" r="5.3" fill="#3968e7"/>
<circle cx="847.2" cy="129.7" r="5.3" fill="#eb007a"/>
<circle cx="697.2" cy="302.0" r="5.3" fill="#c70098"/>
<circle cx="708.1" cy="298.6" r="5.3" fill="#b30aa3"/>
<circle cx="704.9" cy="314.6" r="5.3" fill="#b604a2"/>
<circle cx="892.2" cy="90.8" r="5.3" fill="#f7006a"/>
<circle cx="780.3" cy="311.4" r="5.3" fill="#4664e4"/>
<circle cx="518.3" cy="103.7" r="5.3" fill="#4066e6"/>
<circle cx="899.9" cy="116.7" r="5.3" fill="#f6006c"/>
<circle cx="628.4" cy="218.8" r="5.3" fill="#e9007c"/>
<circle cx="777.7" cy="323.2" r="5.3" fill="#4066e6"/>
<circle cx="571.9" cy="196.0" r="5.3" fill="#fc0061"/>
<circle cx="766.9" cy="95.1" r="5.3" fill="#c70098"/>
<circle cx="699.7" cy="108.1" r="5.3" fill="#aa17a7"/>
<circle cx="573.3" cy="199.8" r="5.3" fill="#fb0063"/>
<circle cx="833.3" cy="116.7" r="5.3" fill="#e30082"/>
<circle cx="484.0" cy="116.7" r="5.3" fill="#0073ef"/>
<circle cx="424.1" cy="125.4" r="5.3" fill="#0082f8"/>
<circle cx="750.5" cy="302.0" r="5.3" fill="#7d49cc"/>
<circle cx="706.3" cy="203.6" r="5.3" fill="#bf009d"/>
<circle cx="896.8" cy="90.8" r="5.3" fill="#f7006a"/>
<circle cx="709.0" cy="103.7" r="5.3" fill="#ad13a6"/>
<circle cx="807.4" cy="295.1" r="5.3" fill="#007cf5"/>
<circle cx="838.7" cy="90.8" r="5.3" fill="#e7007e"/>
<circle cx="911.3" cy="207.4" r="5.3" fill="#007bf4"/>
<circle cx="640.6" cy="103.7" r="5.3" fill="#8f36bb"/>
<circle cx="959.0" cy="215.0" r="5.3" fill="#0089fa"/>
<circle cx="809.7" cy="199.8" r="5.3" fill="#764ed0"/>
<circle cx="829.8" cy="129.7" r="5.3" fill="#e7007e"/>
<circle cx="768.8" cy="112.4" r="5.3" fill="#cf0093"/>
<circle cx="816.4" cy="295.3" r="5.3" fill="#0082f8"/>
<circle cx="636.1" cy="203.6" r="5.3" fill="#e10084"/>
<circle cx="506.4" cy="108.1" r="5.3" fill="#306ae9"/>
<circle cx="936.5" cy="108.1" r="5.3" fill="#ff0058"/>
<circle cx="691.2" cy="322.8" r="5.3" fill="#c70098"/>
<circle cx="655.6" cy="192.2" r="5.3" fill="#dd0088"/>
<circle cx="830.5" cy="86.4" r="5.3" fill="#e30082"/>
<circle cx="728.5" cy="116.7" r="5.3" fill="#b900a0"/>
<circle cx="830.9" cy="82.1" r="5.3" fill="#e50080"/>
<circle cx="790.4" cy="305.2" r="5.3" fill="#006fed"/>
<circle cx="687.9" cy="285.6" r="5.3" fill="#d10091"/>
<circle cx="696.8" cy="282.3" r="5.3" fill="#bf009d"/>
<circle cx="824.5" cy="112.4" r="5.3" fill="#e10084"/>
<circle cx="817.6" cy="116.7" r="5.3" fill="#e10084"/>
<circle cx="530.7" cy="108.1" r="5.3" fill="#4c63e3"/>
<circle cx="900.5" cy="203.6" r="5.3" fill="#0077f2"/>
<circle cx="904.2" cy="222.6" r="5.3" fill="#0077f2"/>
<circle cx="742.8" cy="199.8" r="5.3" fill="#a01fab"/>
<circle cx="609.8" cy="312.3" r="5.3" fill="#ff0053"/>
<circle cx="827.2" cy="305.5" r="5.3" fill="#0089fa"/>
<circle cx="681.9" cy="108.1" r="5.3" fill="#a31daa"/>
<circle cx="827.4" cy="302.0" r="5.3" fill="#0089fa"/>
<circle cx="507.6" cy="211.2" r="5.3" fill="#ff0051"/>
<circle cx="603.7" cy="211.2" r="5.3" fill="#f10072"/>
<circle cx="571.8" cy="218.8" r="5.3" fill="#fb0063"/>
<circle cx="854.7" cy="302.0" r="5.3" fill="#008bfb"/>
<circle cx="841.4" cy="86.4" r="5.3" fill="#eb007a"/>
<circle cx="580.2" cy="299.8" r="5.3" fill="#ff0051"/>
<circle cx="814.4" cy="305.9" r="5.3" fill="#0081f7"/>
<circle cx="659.4" cy="308.9" r="5.3" fill="#ec0078"/>
<circle cx="622.3" cy="309.0" r="5.3" fill="#ff0053"/>
<circle cx="948.7" cy="207.4" r="5.3" fill="#0085f9"/>
<circle cx="696.0" cy="211.2" r="5.3" fill="#c5009a"/>
<circle cx="690.2" cy="319.3" r="5.3" fill="#cd0095"/>
<circle cx="768.6" cy="309.0" r="5.3" fill="#605bdc"/>
<circle cx="790.8" cy="125.4" r="5.3" fill="#d6008e"/>
<circle cx="528.0" cy="207.4" r="5.3" fill="#ff0051"/>
<circle cx="791.5" cy="203.6" r="5.3" fill="#8542c5"/>
<circle cx="790.0" cy="308.4" r="5.3" fill="#006fed"/>
<circle cx="780.9" cy="292.6" r="5.3" fill="#3968e7"/>
<circle cx="910.9" cy="203.6" r="5.3" fill="#0077f2"/>
<circle cx="458.1" cy="99.4" r="5.3" fill="#007bf4"/>
<circle cx="845.0" cy="302.0" r="5.3" fill="#008bfb"/>
<circle cx="856.8" cy="211.2" r="5.3" fill="#5261e1"/>
<circle cx="551.2" cy="218.8" r="5.3" fill="#ff0053"/>
<circle cx="622.2" cy="298.6" r="5.3" fill="#ff0056"/>
<circle cx="806.2" cy="134.1" r="5.3" fill="#db008a"/>
<circle cx="709.7" cy="207.4" r="5.3" fill="#bc009f"/>
<circle cx="707.6" cy="305.4" r="5.3" fill="#b900a0"/>
<circle cx="762.4" cy="218.8" r="5.3" fill="#9430b6"/>
<circle cx="694.1" cy="302.0" r="5.3" fill="#ca0097"/>
<circle cx="680.4" cy="121.1" r="5.3" fill="#9a25ae"/>
<circle cx="593.3" cy="300.3" r="5.3" fill="#ff0051"/>
<circle cx="707.7" cy="211.2" r="5.3" fill="#bc009f"/>
<circle cx="656.1" cy="116.7" r="5.3" fill="#9430b6"/>
<circle cx="798.0" cy="134.1" r="5.3" fill="#d6008e"/>
<circle cx="960.2" cy="211.2" r="5.3" fill="#008bfb"/>
<circle cx="597.4" cy="302.0" r="5.3" fill="#ff0053"/>
<circle cx="482.7" cy="99.4" r="5.3" fill="#0074f0"/>
<circle cx="641.3" cy="305.4" r="5.3" fill="#f7006a"/>
<circle cx="601.5" cy="103.7" r="5.3" fill="#794cce"/>
<circle cx="996.2" cy="207.4" r="5.3" fill="#008bfb"/>
<circle cx="592.4" cy="222.6" r="5.3" fill="#f6006c"/>
<circle cx="886.9" cy="199.8" r="5.3" fill="#0071ee"/>
<circle cx="953.7" cy="196.0" r="5.3" fill="#0088fa"/>
<circle cx="782.1" cy="121.1" r="5.3" fill="#d10091"/>
<circle cx="690.0" cy="207.4" r="5.3" fill="#ca0097"/>
<circle cx="771.4" cy="294.9" r="5.3" fill="#5b5ddd"/>
<circle cx="606.3" cy="103.7" r="5.3" fill="#7f47c9"/>
<circle cx="883.9" cy="103.7" r="5.3" fill="#f30070"/>
<circle cx="786.2" cy="312.6" r="5.3" fill="#3968e7"/>
<circle cx="589.6" cy="188.4" r="5.3" fill="#f80067"/>
<circle cx="808.8" cy="196.0" r="5.3" fill="#7350d2"/>
<circle cx="741.2" cy="302.0" r="5.3" fill="#883fc2"/>
<circle cx="808.9" cy="226.4" r="5.3" fill="#764ed0"/>
<circle cx="603.1" cy="226.4" r="5.3" fill="#f10072"/>
<circle cx="508.3" cy="112.4" r="5.3" fill="#306ae9"/>
<circle cx="1172.7" cy="112.4" r="5.3" fill="#ff0051"/>
<circle cx="615.6" cy="215.0" r="5.3" fill="#ec0078"/>
<circle cx="817.7" cy="207.4" r="5.3" fill="#6f52d4"/>
<circle cx="824.9" cy="103.7" r="5.3" fill="#e10084"/>
<circle cx="459.4" cy="103.7" r="5.3" fill="#0077f2"/>
<circle cx="696.6" cy="305.2" r="5.3" fill="#c2009c"/>
<circle cx="1055.9" cy="207.4" r="5.3" fill="#0089fa"/>
<circle cx="637.9" cy="305.4" r="5.3" fill="#fa0065"/>
<circle cx="749.3" cy="222.6" r="5.3" fill="#a01fab"/>
<circle cx="660.6" cy="199.8" r="5.3" fill="#d9008c"/>
<circle cx="843.5" cy="222.6" r="5.3" fill="#575fdf"/>
<circle cx="680.2" cy="295.8" r="5.3" fill="#d9008c"/>
<circle cx="628.5" cy="188.4" r="5.3" fill="#e50080"/>
<circle cx="690.8" cy="284.9" r="5.3" fill="#cd0095"/>
<circle cx="449.6" cy="112.4" r="5.3" fill="#007cf5"/>
<circle cx="776.4" cy="316.1" r="5.3" fill="#575fdf"/>
<circle cx="767.3" cy="295.1" r="5.3" fill="#6857d8"/>
<circle cx="838.0" cy="302.0" r="5.3" fill="#0089fa"/>
<circle cx="893.0" cy="211.2" r="5.3" fill="#0074f0"/>
<circle cx="701.4" cy="278.2" r="5.3" fill="#bf009d"/>
<circle cx="617.5" cy="211.2" r="5.3" fill="#ee0076"/>
<circle cx="564.2" cy="218.8" r="5.3" fill="#fe005c"/>
<circle cx="674.1" cy="222.6" r="5.3" fill="#d40090"/>
<circle cx="748.2" cy="207.4" r="5.3" fill="#9a25ae"/>
<circle cx="741.1" cy="112.4" r="5.3" fill="#bc009f"/>
<circle cx="564.4" cy="211.2" r="5.3" fill="#fd005f"/>
<circle cx="662.7" cy="112.4" r="5.3" fill="#9430b6"/>
<circle cx="626.4" cy="203.6" r="5.3" fill="#e9007c"/>
<circle cx="475.9" cy="108.1" r="5.3" fill="#0074f0"/>
<circle cx="357.5" cy="112.6" r="5.3" fill="#0088fa"/>
<circle cx="736.8" cy="121.1" r="5.3" fill="#bf009d"/>
<circle cx="686.6" cy="314.5" r="5.3" fill="#d10091"/>
<circle cx="720.1" cy="121.1" r="5.3" fill="#b00fa5"/>
<circle cx="838.9" cy="121.1" r="5.3" fill="#e9007c"/>
<circle cx="695.6" cy="324.4" r="5.3" fill="#c2009c"/>
<circle cx="764.6" cy="108.1" r="5.3" fill="#ca0097"/>
<circle cx="622.4" cy="196.0" r="5.3" fill="#e9007c"/>
<circle cx="592.9" cy="199.8" r="5.3" fill="#f4006e"/>
<circle cx="785.5" cy="281.4" r="5.3" fill="#186deb"/>
<circle cx="587.0" cy="230.2" r="5.3" fill="#f80067"/>
<circle cx="785.1" cy="203.6" r="5.3" fill="#8542c5"/>
<circle cx="880.8" cy="103.7" r="5.3" fill="#f30070"/>
<circle cx="790.1" cy="289.3" r="5.3" fill="#186deb"/>
<circle cx="750.5" cy="288.6" r="5.3" fill="#7f47c9"/>
<circle cx="615.2" cy="295.3" r="5.3" fill="#ff0051"/>
<circle cx="601.3" cy="199.8" r="5.3" fill="#f4006e"/>
<circle cx="703.2" cy="211.2" r="5.3" fill="#bf009d"/>
<circle cx="749.4" cy="108.1" r="5.3" fill="#c5009a"/>
<circle cx="602.8" cy="196.0" r="5.3" fill="#f10072"/>
<circle cx="669.6" cy="203.6" r="5.3" fill="#d40090"/>
<circle cx="625.9" cy="184.6" r="5.3" fill="#eb007a"/>
<circle cx="765.6" cy="121.1" r="5.3" fill="#cd0095"/>
<circle cx="677.8" cy="112.4" r="5.3" fill="#9a25ae"/>
<circle cx="671.4" cy="108.1" r="5.3" fill="#9829b1"/>
<circle cx="806.4" cy="192.2" r="5.3" fill="#794cce"/>
<circle cx="751.8" cy="199.8" r="5.3" fill="#9d22ac"/>
<circle cx="930.5" cy="218.8" r="5.3" fill="#0081f7"/>
<circle cx="643.3" cy="199.8" r="5.3" fill="#e10084"/>
<circle cx="594.2" cy="196.0" r="5.3" fill="#f6006c"/>
<circle cx="767.2" cy="316.1" r="5.3" fill="#605bdc"/>
<circle cx="721.6" cy="203.6" r="5.3" fill="#ad13a6"/>
<circle cx="718.0" cy="103.7" r="5.3" fill="#b30aa3"/>
<circle cx="962.9" cy="108.1" r="5.3" fill="#ff0051"/>
<circle cx="575.9" cy="226.4" r="5.3" fill="#fb0063"/>
<circle cx="786.6" cy="298.6" r="5.3" fill="#306ae9"/>
<circle cx="429.8" cy="103.7" r="5.3" fill="#0081f7"/>
<circle cx="947.1" cy="218.8" r="5.3" fill="#0086fa"/>
<circle cx="836.7" cy="303.7" r="5.3" fill="#008bfb"/>
<circle cx="577.1" cy="125.4" r="5.3" fill="#6f52d4"/>
<circle cx="829.7" cy="296.2" r="5.3" fill="#008bfb"/>
<circle cx="523.8" cy="95.1" r="5.3" fill="#4066e6"/>
<circle cx="991.3" cy="211.2" r="5.3" fill="#0089fa"/>
<circle cx="449.7" cy="95.1" r="5.3" fill="#007bf4"/>
<circle cx="824.1" cy="125.4" r="5.3" fill="#e10084"/>
<circle cx="809.2" cy="142.7" r="5.3" fill="#db008a"/>
<circle cx="559.0" cy="196.0" r="5.3" fill="#ff005a"/>
<circle cx="873.3" cy="95.1" r="5.3" fill="#f00074"/>
<circle cx="799.5" cy="95.1" r="5.3" fill="#d9008c"/>
<circle cx="699.5" cy="308.5" r="5.3" fill="#c5009a"/>
<circle cx="501.4" cy="99.4" r="5.3" fill="#006fed"/>
<circle cx="583.3" cy="99.4" r="5.3" fill="#7350d2"/>
<circle cx="946.3" cy="116.7" r="5.3" fill="#ff0058"/>
<circle cx="972.3" cy="203.6" r="5.3" fill="#0089fa"/>
<circle cx="655.6" cy="188.4" r="5.3" fill="#d9008c"/>
<circle cx="827.1" cy="316.0" r="5.3" fill="#008bfb"/>
<circle cx="749.8" cy="218.8" r="5.3" fill="#a01fab"/>
<circle cx="791.4" cy="314.7" r="5.3" fill="#0071ee"/>
<circle cx="690.8" cy="326.2" r="5.3" fill="#c70098"/>
<circle cx="632.3" cy="211.2" r="5.3" fill="#e50080"/>
<circle cx="650.3" cy="305.4" r="5.3" fill="#f10072"/>
<circle cx="806.5" cy="103.7" r="5.3" fill="#d9008c"/>
<circle cx="820.8" cy="125.4" r="5.3" fill="#df0086"/>
<circle cx="687.1" cy="295.4" r="5.3" fill="#cf0093"/>
<circle cx="688.9" cy="112.4" r="5.3" fill="#a01fab"/>
<circle cx="812.8" cy="90.8" r="5.3" fill="#dd0088"/>
<circle cx="383.0" cy="110.6" r="5.3" fill="#0088fa"/>
<circle cx="798.2" cy="199.8" r="5.3" fill="#7f47c9"/>
<circle cx="854.0" cy="121.1" r="5.3" fill="#eb007a"/>
<circle cx="355.4" cy="109.4" r="5.3" fill="#0088fa"/>
<circle cx="642.5" cy="302.0" r="5.3" fill="#f6006c"/>
<circle cx="653.0" cy="222.6" r="5.3" fill="#d9008c"/>
<circle cx="742.6" cy="215.0" r="5.3" fill="#a01fab"/>
<circle cx="805.3" cy="90.8" r="5.3" fill="#dd0088"/>
<circle cx="762.1" cy="295.6" r="5.3" fill="#6857d8"/>
<circle cx="622.6" cy="215.0" r="5.3" fill="#eb007a"/>
<circle cx="706.1" cy="298.9" r="5.3" fill="#b900a0"/>
<circle cx="687.4" cy="311.4" r="5.3" fill="#d10091"/>
<circle cx="742.4" cy="203.6" r="5.3" fill="#9d22ac"/>
<circle cx="772.0" cy="309.1" r="5.3" fill="#605bdc"/>
<circle cx="574.9" cy="196.0" r="5.3" fill="#fc0061"/>
<circle cx="576.3" cy="188.4" r="5.3" fill="#fc0061"/>
<circle cx="681.5" cy="207.4" r="5.3" fill="#ca0097"/>
<circle cx="879.4" cy="125.4" r="5.3" fill="#f10072"/>
<circle cx="809.5" cy="215.0" r="5.3" fill="#7350d2"/>
<circle cx="757.2" cy="192.2" r="5.3" fill="#962db3"/>
<circle cx="829.5" cy="138.4" r="5.3" fill="#e30082"/>
<circle cx="786.2" cy="305.5" r="5.3" fill="#306ae9"/>
<circle cx="381.5" cy="115.8" r="5.3" fill="#0088fa"/>
<circle cx="815.7" cy="125.4" r="5.3" fill="#e10084"/>
<circle cx="784.6" cy="108.1" r="5.3" fill="#cf0093"/>
<circle cx="682.3" cy="292.6" r="5.3" fill="#d10091"/>
<circle cx="879.5" cy="203.6" r="5.3" fill="#186deb"/>
<circle cx="849.3" cy="298.9" r="5.3" fill="#008bfb"/>
<circle cx="595.6" cy="218.8" r="5.3" fill="#f4006e"/>
<circle cx="737.4" cy="112.4" r="5.3" fill="#bf009d"/>
<circle cx="877.2" cy="121.1" r="5.3" fill="#f4006e"/>
<circle cx="775.3" cy="108.1" r="5.3" fill="#d10091"/>
<circle cx="627.2" cy="309.7" r="5.3" fill="#ff0058"/>
<circle cx="610.1" cy="112.4" r="5.3" fill="#8244c7"/>
<circle cx="897.1" cy="211.2" r="5.3" fill="#0073ef"/>
<circle cx="657.6" cy="215.0" r="5.3" fill="#d9008c"/>
<circle cx="870.6" cy="121.1" r="5.3" fill="#ee0076"/>
<circle cx="747.3" cy="215.0" r="5.3" fill="#9a25ae"/>
<circle cx="829.7" cy="293.3" r="5.3" fill="#0089fa"/>
<circle cx="582.9" cy="207.4" r="5.3" fill="#f7006a"/>
<circle cx="754.1" cy="302.0" r="5.3" fill="#794cce"/>
<circle cx="373.5" cy="112.4" r="5.3" fill="#0088fa"/>
<circle cx="606.1" cy="207.4" r="5.3" fill="#f00074"/>
<circle cx="599.0" cy="203.6" r="5.3" fill="#f30070"/>
<circle cx="926.8" cy="211.2" r="5.3" fill="#007ff7"/>
<circle cx="765.5" cy="203.6" r="5.3" fill="#9233b9"/>
<circle cx="806.6" cy="298.6" r="5.3" fill="#0079f3"/>
<circle cx="608.3" cy="308.9" r="5.3" fill="#ff0053"/>
<circle cx="656.4" cy="196.0" r="5.3" fill="#db008a"/>
<circle cx="625.2" cy="222.6" r="5.3" fill="#eb007a"/>
<circle cx="610.9" cy="222.6" r="5.3" fill="#ee0076"/>
<circle cx="897.2" cy="215.0" r="5.3" fill="#0073ef"/>
<circle cx="931.9" cy="207.4" r="5.3" fill="#0081f7"/>
<circle cx="569.3" cy="207.4" r="5.3" fill="#fd005f"/>
<circle cx="637.8" cy="299.1" r="5.3" fill="#fa0065"/>
<circle cx="702.7" cy="312.2" r="5.3" fill="#b900a0"/>
<circle cx="701.6" cy="298.6" r="5.3" fill="#bc009f"/>
<circle cx="888.6" cy="129.7" r="5.3" fill="#f30070"/>
<circle cx="839.0" cy="95.1" r="5.3" fill="#e9007c"/>
<circle cx="708.6" cy="302.0" r="5.3" fill="#b30aa3"/>
<circle cx="669.3" cy="116.7" r="5.3" fill="#962db3"/>
<circle cx="756.8" cy="295.9" r="5.3" fill="#6f52d4"/>
<circle cx="630.5" cy="199.8" r="5.3" fill="#e7007e"/>
<circle cx="589.7" cy="207.4" r="5.3" fill="#f4006e"/>
<circle cx="966.7" cy="199.8" r="5.3" fill="#008bfb"/>
<circle cx="699.2" cy="305.2" r="5.3" fill="#bf009d"/>
<circle cx="423.3" cy="95.1" r="5.3" fill="#0085f9"/>
<circle cx="457.8" cy="108.1" r="5.3" fill="#007bf4"/>
<circle cx="459.3" cy="125.4" r="5.3" fill="#0077f2"/>
<circle cx="841.1" cy="218.8" r="5.3" fill="#575fdf"/>
<circle cx="634.9" cy="116.7" r="5.3" fill="#8f36bb"/>
<circle cx="631.9" cy="312.3" r="5.3" fill="#fd005f"/>
<circle cx="736.4" cy="302.0" r="5.3" fill="#8d39be"/>
<circle cx="674.5" cy="278.2" r="5.3" fill="#dd0088"/>
<circle cx="780.4" cy="308.2" r="5.3" fill="#4664e4"/>
<circle cx="903.0" cy="142.7" r="5.3" fill="#f7006a"/>
<circle cx="555.0" cy="103.7" r="5.3" fill="#605bdc"/>
<circle cx="774.1" cy="116.7" r="5.3" fill="#cf0093"/>
<circle cx="637.3" cy="296.3" r="5.3" fill="#fb0063"/>
<circle cx="787.5" cy="112.4" r="5.3" fill="#d10091"/>
<circle cx="641.5" cy="308.7" r="5.3" fill="#f7006a"/>
<circle cx="696.5" cy="308.4" r="5.3" fill="#c70098"/>
<circle cx="827.9" cy="129.7" r="5.3" fill="#e50080"/>
<circle cx="473.9" cy="116.7" r="5.3" fill="#0074f0"/>
<circle cx="785.6" cy="319.7" r="5.3" fill="#266cea"/>
<circle cx="832.4" cy="302.0" r="5.3" fill="#0089fa"/>
<circle cx="731.2" cy="203.6" r="5.3" fill="#ad13a6"/>
<circle cx="703.1" cy="203.6" r="5.3" fill="#bf009d"/>
<circle cx="703.1" cy="108.1" r="5.3" fill="#aa17a7"/>
<circle cx="608.2" cy="211.2" r="5.3" fill="#f10072"/>
<circle cx="472.9" cy="108.1" r="5.3" fill="#0077f2"/>
<circle cx="477.2" cy="121.1" r="5.3" fill="#0076f1"/>
<circle cx="687.9" cy="317.6" r="5.3" fill="#cf0093"/>
<circle cx="822.3" cy="103.7" r="5.3" fill="#e30082"/>
<circle cx="693.4" cy="314.4" r="5.3" fill="#c70098"/>
<circle cx="631.9" cy="295.5" r="5.3" fill="#fe005c"/>
<circle cx="893.4" cy="218.8" r="5.3" fill="#0073ef"/>
<circle cx="794.1" cy="215.0" r="5.3" fill="#8542c5"/>
<circle cx="506.9" cy="103.7" r="5.3" fill="#266cea"/>
<circle cx="870.9" cy="112.4" r="5.3" fill="#f30070"/>
<circle cx="750.0" cy="305.5" r="5.3" fill="#7d49cc"/>
<circle cx="708.3" cy="295.3" r="5.3" fill="#b00fa5"/>
<circle cx="606.7" cy="234.0" r="5.3" fill="#f10072"/>
<circle cx="696.8" cy="292.1" r="5.3" fill="#c70098"/>
<circle cx="598.0" cy="226.4" r="5.3" fill="#f4006e"/>
<circle cx="523.7" cy="99.4" r="5.3" fill="#4c63e3"/>
<circle cx="770.0" cy="207.4" r="5.3" fill="#9430b6"/>
<circle cx="777.0" cy="211.2" r="5.3" fill="#8d39be"/>
<circle cx="758.5" cy="308.1" r="5.3" fill="#6f52d4"/>
<circle cx="766.8" cy="281.4" r="5.3" fill="#6459da"/>
<circle cx="913.8" cy="116.7" r="5.3" fill="#fb0063"/>
<circle cx="673.5" cy="218.8" r="5.3" fill="#d10091"/>
<circle cx="771.3" cy="291.4" r="5.3" fill="#605bdc"/>
<circle cx="674.4" cy="291.8" r="5.3" fill="#db008a"/>
<circle cx="854.1" cy="303.7" r="5.3" fill="#008bfb"/>
<circle cx="624.8" cy="192.2" r="5.3" fill="#e7007e"/>
<circle cx="450.6" cy="207.3" r="5.3" fill="#ff0051"/>
<circle cx="623.1" cy="291.8" r="5.3" fill="#ff0053"/>
<circle cx="754.5" cy="311.7" r="5.3" fill="#7d49cc"/>
<circle cx="850.1" cy="95.1" r="5.3" fill="#e9007c"/>
<circle cx="856.9" cy="215.0" r="5.3" fill="#4c63e3"/>
<circle cx="779.1" cy="95.1" r="5.3" fill="#cd0095"/>
<circle cx="547.0" cy="211.2" r="5.3" fill="#ff0051"/>
<circle cx="975.9" cy="116.7" r="5.3" fill="#ff0051"/>
<circle cx="650.9" cy="298.6" r="5.3" fill="#f00074"/>
<circle cx="431.2" cy="108.1" r="5.3" fill="#007ff7"/>
<circle cx="597.3" cy="215.0" r="5.3" fill="#f30070"/>
<circle cx="458.8" cy="121.1" r="5.3" fill="#0079f3"/>
<circle cx="960.2" cy="103.7" r="5.3" fill="#ff0051"/>
<circle cx="656.3" cy="207.4" r="5.3" fill="#db008a"/>
<circle cx="675.4" cy="305.5" r="5.3" fill="#d9008c"/>
<circle cx="536.2" cy="203.6" r="5.3" fill="#ff0053"/>
<circle cx="549.7" cy="203.6" r="5.3" fill="#ff0058"/>
<circle cx="552.9" cy="199.8" r="5.3" fill="#ff0056"/>
<circle cx="693.0" cy="311.3" r="5.3" fill="#ca0097"/>
<circle cx="912.4" cy="211.2" r="5.3" fill="#0079f3"/>
<circle cx="468.4" cy="121.1" r="5.3" fill="#0076f1"/>
<circle cx="758.0" cy="305.0" r="5.3" fill="#7350d2"/>
<circle cx="691.1" cy="308.9" r="5.3" fill="#ca0097"/>
<circle cx="838.0" cy="203.6" r="5.3" fill="#6459da"/>
<circle cx="839.5" cy="302.0" r="5.3" fill="#0089fa"/>
<circle cx="704.5" cy="207.4" r="5.3" fill="#bc009f"/>
<circle cx="445.6" cy="129.7" r="5.3" fill="#007cf5"/>
<circle cx="254.1" cy="112.4" r="5.3" fill="#0089fa"/>
<circle cx="875.4" cy="211.2" r="5.3" fill="#186deb"/>
<circle cx="763.0" cy="203.6" r="5.3" fill="#962db3"/>
<circle cx="964.3" cy="203.6" r="5.3" fill="#008bfb"/>
<circle cx="733.0" cy="215.0" r="5.3" fill="#aa17a7"/>
<circle cx="818.0" cy="199.8" r="5.3" fill="#7350d2"/>
<circle cx="833.1" cy="306.3" r="5.3" fill="#008bfb"/>
<circle cx="923.9" cy="103.7" r="5.3" fill="#fe005c"/>
<circle cx="780.3" cy="305.1" r="5.3" fill="#4066e6"/>
<circle cx="690.5" cy="305.5" r="5.3" fill="#ca0097"/>
<circle cx="874.4" cy="302.1" r="5.3" fill="#008bfb"/>
<circle cx="687.3" cy="320.7" r="5.3" fill="#cf0093"/>
<circle cx="584.0" cy="103.7" r="5.3" fill="#6f52d4"/>
<circle cx="827.3" cy="309.0" r="5.3" fill="#0088fa"/>
<circle cx="807.4" cy="309.3" r="5.3" fill="#007bf4"/>
<circle cx="985.7" cy="203.6" r="5.3" fill="#008bfb"/>
<circle cx="625.0" cy="108.1" r="5.3" fill="#8244c7"/>
<circle cx="699.5" cy="321.5" r="5.3" fill="#bf009d"/>
<circle cx="932.8" cy="196.0" r="5.3" fill="#007ff7"/>
<circle cx="732.8" cy="207.4" r="5.3" fill="#aa17a7"/>
<circle cx="815.8" cy="199.8" r="5.3" fill="#6f52d4"/>
<circle cx="625.7" cy="199.8" r="5.3" fill="#e7007e"/>
<circle cx="491.7" cy="121.1" r="5.3" fill="#0071ee"/>
<circle cx="806.6" cy="211.2" r="5.3" fill="#764ed0"/>
<circle cx="625.3" cy="192.2" r="5.3" fill="#eb007a"/>
<circle cx="845.1" cy="300.3" r="5.3" fill="#008bfb"/>
<circle cx="898.5" cy="207.4" r="5.3" fill="#0076f1"/>
<circle cx="820.6" cy="306.3" r="5.3" fill="#0085f9"/>
<circle cx="568.4" cy="108.1" r="5.3" fill="#6857d8"/>
<circle cx="420.4" cy="116.7" r="5.3" fill="#0085f9"/>
<circle cx="751.4" cy="121.1" r="5.3" fill="#bf009d"/>
<circle cx="852.4" cy="125.4" r="5.3" fill="#ec0078"/>
<circle cx="762.8" cy="215.0" r="5.3" fill="#9829b1"/>
<circle cx="655.9" cy="304.9" r="5.3" fill="#ee0076"/>
<circle cx="566.0" cy="199.8" r="5.3" fill="#fc0061"/>
<circle cx="597.8" cy="306.3" r="5.3" fill="#ff0053"/>
<circle cx="774.3" cy="215.0" r="5.3" fill="#9233b9"/>
<circle cx="424.1" cy="99.4" r="5.3" fill="#0081f7"/>
<circle cx="579.9" cy="218.8" r="5.3" fill="#fa0065"/>
<circle cx="636.5" cy="211.2" r="5.3" fill="#e50080"/>
<circle cx="828.1" cy="298.5" r="5.3" fill="#0088fa"/>
<circle cx="794.8" cy="299.1" r="5.3" fill="#0071ee"/>
<circle cx="775.3" cy="199.8" r="5.3" fill="#8d39be"/>
<circle cx="832.4" cy="295.3" r="5.3" fill="#0089fa"/>
<circle cx="898.2" cy="129.7" r="5.3" fill="#f80067"/>
<circle cx="657.8" cy="226.4" r="5.3" fill="#db008a"/>
<circle cx="482.8" cy="108.1" r="5.3" fill="#0071ee"/>
<circle cx="779.0" cy="207.4" r="5.3" fill="#8d39be"/>
<circle cx="794.9" cy="302.0" r="5.3" fill="#0073ef"/>
<circle cx="238.3" cy="112.4" r="5.3" fill="#0089fa"/>
<circle cx="880.5" cy="199.8" r="5.3" fill="#186deb"/>
<circle cx="806.1" cy="291.7" r="5.3" fill="#007bf4"/>
<circle cx="901.6" cy="103.7" r="5.3" fill="#fa0065"/>
<circle cx="461.7" cy="116.7" r="5.3" fill="#0077f2"/>
<circle cx="608.8" cy="302.0" r="5.3" fill="#ff0053"/>
<circle cx="658.5" cy="312.3" r="5.3" fill="#ec0078"/>
<circle cx="328.3" cy="112.6" r="5.3" fill="#0089fa"/>
<circle cx="892.0" cy="82.1" r="5.3" fill="#f6006c"/>
<circle cx="642.7" cy="296.5" r="5.3" fill="#f80067"/>
<circle cx="947.1" cy="199.8" r="5.3" fill="#0088fa"/>
<circle cx="626.1" cy="215.0" r="5.3" fill="#eb007a"/>
<circle cx="844.6" cy="211.2" r="5.3" fill="#5261e1"/>
<circle cx="696.2" cy="116.7" r="5.3" fill="#a71aa9"/>
<circle cx="769.6" cy="103.7" r="5.3" fill="#cf0093"/>
<circle cx="795.5" cy="207.4" r="5.3" fill="#8542c5"/>
<circle cx="788.6" cy="207.4" r="5.3" fill="#8a3cc0"/>
<circle cx="776.4" cy="298.6" r="5.3" fill="#5261e1"/>
<circle cx="1009.0" cy="207.4" r="5.3" fill="#0089fa"/>
<circle cx="814.0" cy="82.1" r="5.3" fill="#df0086"/>
<circle cx="702.6" cy="291.8" r="5.3" fill="#b900a0"/>
<circle cx="499.9" cy="112.4" r="5.3" fill="#0071ee"/>
<circle cx="535.3" cy="112.4" r="5.3" fill="#5261e1"/>
<circle cx="724.5" cy="215.0" r="5.3" fill="#b00fa5"/>
<circle cx="755.3" cy="218.8" r="5.3" fill="#962db3"/>
<circle cx="732.2" cy="199.8" r="5.3" fill="#a71aa9"/>
<circle cx="849.4" cy="108.1" r="5.3" fill="#eb007a"/>
<circle cx="737.0" cy="99.4" r="5.3" fill="#bf009d"/>
<circle cx="813.4" cy="295.5" r="5.3" fill="#007ff7"/>
<circle cx="664.8" cy="108.1" r="5.3" fill="#962db3"/>
<circle cx="628.7" cy="222.6" r="5.3" fill="#e9007c"/>
<circle cx="933.5" cy="215.0" r="5.3" fill="#0082f8"/>
<circle cx="856.3" cy="103.7" r="5.3" fill="#ee0076"/>
<circle cx="671.0" cy="291.0" r="5.3" fill="#e10084"/>
<circle cx="364.2" cy="108.1" r="5.3" fill="#0088fa"/>
<circle cx="945.3" cy="192.2" r="5.3" fill="#0086fa"/>
<circle cx="812.2" cy="218.8" r="5.3" fill="#764ed0"/>
<circle cx="819.9" cy="302.0" r="5.3" fill="#0085f9"/>
<circle cx="655.4" cy="299.1" r="5.3" fill="#ee0076"/>
<circle cx="567.7" cy="199.8" r="5.3" fill="#fc0061"/>
<circle cx="539.9" cy="121.1" r="5.3" fill="#4664e4"/>
<circle cx="680.3" cy="315.1" r="5.3" fill="#db008a"/>
<circle cx="466.1" cy="125.4" r="5.3" fill="#0077f2"/>
<circle cx="773.5" cy="203.6" r="5.3" fill="#8d39be"/>
<circle cx="600.0" cy="99.4" r="5.3" fill="#7f47c9"/>
<circle cx="712.1" cy="302.0" r="5.3" fill="#ad13a6"/>
<circle cx="432.3" cy="112.4" r="5.3" fill="#0081f7"/>
<circle cx="767.5" cy="305.5" r="5.3" fill="#6857d8"/>
<circle cx="750.9" cy="316.0" r="5.3" fill="#7d49cc"/>
<circle cx="810.5" cy="309.7" r="5.3" fill="#007ff7"/>
<circle cx="670.9" cy="298.3" r="5.3" fill="#e30082"/>
<circle cx="762.4" cy="108.1" r="5.3" fill="#c5009a"/>
<circle cx="754.7" cy="103.7" r="5.3" fill="#c5009a"/>
<circle cx="675.2" cy="274.8" r="5.3" fill="#db008a"/>
<circle cx="799.7" cy="129.7" r="5.3" fill="#d6008e"/>
<circle cx="632.2" cy="203.6" r="5.3" fill="#e7007e"/>
<circle cx="720.8" cy="211.2" r="5.3" fill="#b30aa3"/>
<circle cx="885.9" cy="207.4" r="5.3" fill="#006fed"/>
<circle cx="1080.0" cy="113.0" r="5.3" fill="#ff0051"/>
<circle cx="838.6" cy="99.4" r="5.3" fill="#e50080"/>
<circle cx="427.0" cy="90.8" r="5.3" fill="#0082f8"/>
<circle cx="985.4" cy="207.4" r="5.3" fill="#008bfb"/>
<circle cx="949.5" cy="196.0" r="5.3" fill="#0086fa"/>
<circle cx="862.8" cy="103.7" r="5.3" fill="#ec0078"/>
<circle cx="644.4" cy="203.6" r="5.3" fill="#e10084"/>
<circle cx="695.7" cy="298.7" r="5.3" fill="#c70098"/>
<circle cx="908.6" cy="129.7" r="5.3" fill="#f80067"/>
<circle cx="904.9" cy="207.4" r="5.3" fill="#0076f1"/>
<circle cx="683.8" cy="283.3" r="5.3" fill="#d6008e"/>
<circle cx="736.2" cy="116.7" r="5.3" fill="#bf009d"/>
<circle cx="810.6" cy="196.0" r="5.3" fill="#7350d2"/>
<circle cx="724.2" cy="299.3" r="5.3" fill="#a01fab"/>
<circle cx="582.7" cy="184.6" r="5.3" fill="#fa0065"/>
<circle cx="587.4" cy="116.7" r="5.3" fill="#7350d2"/>
<circle cx="817.6" cy="196.0" r="5.3" fill="#764ed0"/>
<circle cx="794.7" cy="203.6" r="5.3" fill="#8244c7"/>
<circle cx="607.4" cy="203.6" r="5.3" fill="#f00074"/>
<circle cx="787.7" cy="108.1" r="5.3" fill="#d6008e"/>
<circle cx="670.1" cy="112.4" r="5.3" fill="#9829b1"/>
<circle cx="583.6" cy="226.4" r="5.3" fill="#f7006a"/>
<circle cx="654.0" cy="112.4" r="5.3" fill="#962db3"/>
<circle cx="967.6" cy="207.4" r="5.3" fill="#008bfb"/>
<circle cx="437.1" cy="108.1" r="5.3" fill="#007ff7"/>
<circle cx="682.0" cy="215.0" r="5.3" fill="#cd0095"/>
<circle cx="940.2" cy="199.8" r="5.3" fill="#0082f8"/>
<circle cx="812.0" cy="134.1" r="5.3" fill="#db008a"/>
<circle cx="679.2" cy="292.6" r="5.3" fill="#d6008e"/>
<circle cx="662.4" cy="116.7" r="5.3" fill="#9430b6"/>
<circle cx="549.7" cy="199.8" r="5.3" fill="#ff0053"/>
<circle cx="602.1" cy="177.0" r="5.3" fill="#f10072"/>
<circle cx="559.7" cy="211.2" r="5.3" fill="#ff0058"/>
<circle cx="808.9" cy="99.4" r="5.3" fill="#df0086"/>
<circle cx="601.0" cy="180.8" r="5.3" fill="#f10072"/>
<circle cx="949.1" cy="99.4" r="5.3" fill="#ff0058"/>
<circle cx="608.4" cy="305.4" r="5.3" fill="#ff0051"/>
<circle cx="366.5" cy="108.3" r="5.3" fill="#0088fa"/>
<circle cx="678.0" cy="211.2" r="5.3" fill="#cf0093"/>
<circle cx="853.8" cy="116.7" r="5.3" fill="#ec0078"/>
<circle cx="669.9" cy="313.0" r="5.3" fill="#e10084"/>
<circle cx="790.4" cy="298.8" r="5.3" fill="#006fed"/>
<circle cx="401.3" cy="103.7" r="5.3" fill="#0089fa"/>
<circle cx="423.4" cy="103.7" r="5.3" fill="#0082f8"/>
<circle cx="533.0" cy="196.0" r="5.3" fill="#ff0051"/>
<circle cx="846.1" cy="121.1" r="5.3" fill="#e9007c"/>
<circle cx="671.3" cy="287.3" r="5.3" fill="#e30082"/>
<circle cx="841.4" cy="129.7" r="5.3" fill="#e7007e"/>
<circle cx="683.4" cy="319.7" r="5.3" fill="#d6008e"/>
<circle cx="725.3" cy="207.4" r="5.3" fill="#b00fa5"/>
<circle cx="761.1" cy="298.8" r="5.3" fill="#6c54d6"/>
<circle cx="880.3" cy="211.2" r="5.3" fill="#186deb"/>
<circle cx="674.8" cy="319.3" r="5.3" fill="#db008a"/>
<circle cx="842.6" cy="108.1" r="5.3" fill="#eb007a"/>
<circle cx="638.2" cy="308.7" r="5.3" fill="#fa0065"/>
<circle cx="665.8" cy="299.0" r="5.3" fill="#e50080"/>
<circle cx="683.7" cy="305.5" r="5.3" fill="#d40090"/>
<circle cx="683.8" cy="112.4" r="5.3" fill="#a01fab"/>
<circle cx="829.5" cy="125.4" r="5.3" fill="#e50080"/>
<circle cx="662.6" cy="298.6" r="5.3" fill="#e7007e"/>
<circle cx="830.9" cy="134.1" r="5.3" fill="#e30082"/>
<circle cx="757.6" cy="207.4" r="5.3" fill="#962db3"/>
<circle cx="755.4" cy="199.8" r="5.3" fill="#9829b1"/>
<circle cx="715.0" cy="211.2" r="5.3" fill="#b30aa3"/>
<circle cx="654.6" cy="293.3" r="5.3" fill="#ec0078"/>
<circle cx="810.1" cy="207.4" r="5.3" fill="#764ed0"/>
<circle cx="552.6" cy="103.7" r="5.3" fill="#605bdc"/>
<circle cx="914.6" cy="99.4" r="5.3" fill="#fb0063"/>
<circle cx="573.7" cy="207.4" r="5.3" fill="#fc0061"/>
<circle cx="775.9" cy="309.1" r="5.3" fill="#4c63e3"/>
<circle cx="616.1" cy="218.8" r="5.3" fill="#eb007a"/>
<circle cx="501.6" cy="121.1" r="5.3" fill="#266cea"/>
<circle cx="888.5" cy="116.7" r="5.3" fill="#f4006e"/>
<circle cx="666.8" cy="211.2" r="5.3" fill="#d40090"/>
<circle cx="875.5" cy="199.8" r="5.3" fill="#186deb"/>
<circle cx="644.2" cy="215.0" r="5.3" fill="#e10084"/>
<circle cx="663.4" cy="302.0" r="5.3" fill="#e9007c"/>
<circle cx="679.5" cy="318.4" r="5.3" fill="#d9008c"/>
<circle cx="608.9" cy="108.1" r="5.3" fill="#7d49cc"/>
<circle cx="645.6" cy="298.6" r="5.3" fill="#f4006e"/>
<circle cx="522.0" cy="116.7" r="5.3" fill="#4664e4"/>
<circle cx="621.9" cy="207.4" r="5.3" fill="#e9007c"/>
<circle cx="827.2" cy="284.4" r="5.3" fill="#0088fa"/>
<circle cx="955.9" cy="112.4" r="5.3" fill="#ff0051"/>
<circle cx="853.9" cy="203.6" r="5.3" fill="#4c63e3"/>
<circle cx="439.1" cy="99.4" r="5.3" fill="#007ef6"/>
<circle cx="814.5" cy="116.7" r="5.3" fill="#db008a"/>
<circle cx="880.6" cy="138.4" r="5.3" fill="#f4006e"/>
<circle cx="441.5" cy="116.7" r="5.3" fill="#007ff7"/>
<circle cx="914.5" cy="211.2" r="5.3" fill="#007cf5"/>
<circle cx="487.1" cy="207.4" r="5.3" fill="#ff0053"/>
<circle cx="865.8" cy="99.4" r="5.3" fill="#f10072"/>
<circle cx="957.6" cy="199.8" r="5.3" fill="#008bfb"/>
<circle cx="880.3" cy="95.1" r="5.3" fill="#f4006e"/>
<circle cx="894.3" cy="95.1" r="5.3" fill="#f6006c"/>
<circle cx="1018.0" cy="207.4" r="5.3" fill="#0089fa"/>
<circle cx="907.9" cy="199.8" r="5.3" fill="#0077f2"/>
<circle cx="572.9" cy="218.8" r="5.3" fill="#fc0061"/>
<circle cx="586.5" cy="203.6" r="5.3" fill="#f6006c"/>
<circle cx="529.9" cy="211.2" r="5.3" fill="#ff0053"/>
<circle cx="729.3" cy="309.3" r="5.3" fill="#962db3"/>
<circle cx="812.6" cy="211.2" r="5.3" fill="#764ed0"/>
<circle cx="761.1" cy="302.0" r="5.3" fill="#6857d8"/>
<circle cx="778.9" cy="215.0" r="5.3" fill="#8d39be"/>
<circle cx="919.3" cy="196.0" r="5.3" fill="#007ef6"/>
<circle cx="468.4" cy="95.1" r="5.3" fill="#0079f3"/>
<circle cx="750.8" cy="312.5" r="5.3" fill="#794cce"/>
<circle cx="953.7" cy="203.6" r="5.3" fill="#008bfb"/>
<circle cx="743.8" cy="196.0" r="5.3" fill="#9d22ac"/>
<circle cx="515.7" cy="116.7" r="5.3" fill="#266cea"/>
<circle cx="851.9" cy="218.8" r="5.3" fill="#5261e1"/>
<circle cx="820.4" cy="299.2" r="5.3" fill="#0085f9"/>
<circle cx="739.9" cy="207.4" r="5.3" fill="#a71aa9"/>
<circle cx="759.7" cy="112.4" r="5.3" fill="#c5009a"/>
<circle cx="772.2" cy="316.2" r="5.3" fill="#575fdf"/>
<circle cx="305.3" cy="107.6" r="5.3" fill="#0089fa"/>
<circle cx="879.9" cy="99.4" r="5.3" fill="#f10072"/>
<circle cx="570.3" cy="211.2" r="5.3" fill="#fb0063"/>
<circle cx="716.6" cy="99.4" r="5.3" fill="#b00fa5"/>
<circle cx="550.3" cy="108.1" r="5.3" fill="#605bdc"/>
<circle cx="886.0" cy="196.0" r="5.3" fill="#0073ef"/>
<circle cx="425.8" cy="108.1" r="5.3" fill="#0082f8"/>
<circle cx="627.1" cy="294.3" r="5.3" fill="#ff0058"/>
<circle cx="575.1" cy="112.4" r="5.3" fill="#6c54d6"/>
<circle cx="1030.0" cy="207.4" r="5.3" fill="#0089fa"/>
<circle cx="670.0" cy="305.7" r="5.3" fill="#e10084"/>
<circle cx="624.1" cy="112.4" r="5.3" fill="#8542c5"/>
<circle cx="686.6" cy="298.7" r="5.3" fill="#cf0093"/>
<circle cx="886.2" cy="95.1" r="5.3" fill="#f6006c"/>
<circle cx="655.5" cy="296.2" r="5.3" fill="#f00074"/>
<circle cx="991.1" cy="112.4" r="5.3" fill="#ff0051"/>
<circle cx="860.1" cy="215.0" r="5.3" fill="#4664e4"/>
<circle cx="538.3" cy="108.1" r="5.3" fill="#4c63e3"/>
<circle cx="675.6" cy="315.9" r="5.3" fill="#db008a"/>
<circle cx="631.7" cy="207.4" r="5.3" fill="#e9007c"/>
<circle cx="752.2" cy="116.7" r="5.3" fill="#c5009a"/>
<circle cx="515.7" cy="199.8" r="5.3" fill="#ff0051"/>
<circle cx="629.9" cy="211.2" r="5.3" fill="#e9007c"/>
<circle cx="448.7" cy="108.1" r="5.3" fill="#007bf4"/>
<circle cx="499.7" cy="207.4" r="5.3" fill="#ff0051"/>
<circle cx="727.7" cy="108.1" r="5.3" fill="#b900a0"/>
<circle cx="850.6" cy="199.8" r="5.3" fill="#575fdf"/>
<circle cx="897.1" cy="112.4" r="5.3" fill="#f80067"/>
<circle cx="879.0" cy="134.1" r="5.3" fill="#f10072"/>
<circle cx="736.2" cy="295.3" r="5.3" fill="#9233b9"/>
<circle cx="751.5" cy="129.7" r="5.3" fill="#c5009a"/>
<circle cx="1003.7" cy="107.6" r="5.3" fill="#ff0051"/>
<circle cx="589.0" cy="302.0" r="5.3" fill="#ff0051"/>
<circle cx="869.4" cy="108.1" r="5.3" fill="#f00074"/>
<circle cx="857.3" cy="302.0" r="5.3" fill="#008bfb"/>
<circle cx="717.8" cy="196.0" r="5.3" fill="#b30aa3"/>
<circle cx="603.1" cy="302.0" r="5.3" fill="#ff0051"/>
<circle cx="896.5" cy="86.4" r="5.3" fill="#f7006a"/>
<circle cx="588.5" cy="299.8" r="5.3" fill="#ff0051"/>
<circle cx="289.7" cy="117.0" r="5.3" fill="#0089fa"/>
<circle cx="851.8" cy="211.2" r="5.3" fill="#575fdf"/>
<circle cx="793.5" cy="293.2" r="5.3" fill="#006fed"/>
<circle cx="675.6" cy="207.4" r="5.3" fill="#cd0095"/>
<circle cx="526.9" cy="116.7" r="5.3" fill="#4664e4"/>
<circle cx="582.8" cy="192.2" r="5.3" fill="#f80067"/>
<circle cx="870.2" cy="99.4" r="5.3" fill="#f10072"/>
<circle cx="758.1" cy="99.4" r="5.3" fill="#c5009a"/>
<circle cx="515.2" cy="211.2" r="5.3" fill="#ff0051"/>
<circle cx="676.9" cy="211.2" r="5.3" fill="#cd0095"/>
<circle cx="894.6" cy="207.4" r="5.3" fill="#0074f0"/>
<circle cx="674.9" cy="298.6" r="5.3" fill="#dd0088"/>
<circle cx="766.8" cy="116.7" r="5.3" fill="#ca0097"/>
<circle cx="831.8" cy="90.8" r="5.3" fill="#e7007e"/>
<circle cx="598.7" cy="192.2" r="5.3" fill="#f30070"/>
<circle cx="581.0" cy="222.6" r="5.3" fill="#fa0065"/>
<circle cx="723.7" cy="305.7" r="5.3" fill="#a01fab"/>
<circle cx="703.4" cy="325.8" r="5.3" fill="#b604a2"/>
<circle cx="653.2" cy="211.2" r="5.3" fill="#dd0088"/>
<circle cx="582.7" cy="215.0" r="5.3" fill="#f7006a"/>
<circle cx="750.2" cy="298.6" r="5.3" fill="#794cce"/>
<circle cx="660.8" cy="211.2" r="5.3" fill="#d9008c"/>
<circle cx="695.9" cy="112.4" r="5.3" fill="#aa17a7"/>
<circle cx="820.8" cy="108.1" r="5.3" fill="#e30082"/>
<circle cx="805.4" cy="116.7" r="5.3" fill="#d9008c"/>
<circle cx="550.4" cy="207.4" r="5.3" fill="#ff0058"/>
<circle cx="683.7" cy="103.7" r="5.3" fill="#a31daa"/>
<circle cx="678.6" cy="203.6" r="5.3" fill="#cd0095"/>
<circle cx="647.2" cy="305.4" r="5.3" fill="#f4006e"/>
<circle cx="631.3" cy="121.1" r="5.3" fill="#883fc2"/>
<circle cx="942.4" cy="211.2" r="5.3" fill="#0085f9"/>
<circle cx="544.3" cy="112.4" r="5.3" fill="#575fdf"/>
<circle cx="819.8" cy="296.5" r="5.3" fill="#0084f9"/>
<circle cx="947.8" cy="112.4" r="5.3" fill="#ff0053"/>
<circle cx="599.3" cy="215.0" r="5.3" fill="#f30070"/>
<circle cx="646.8" cy="295.3" r="5.3" fill="#f30070"/>
<circle cx="754.2" cy="295.5" r="5.3" fill="#764ed0"/>
<circle cx="746.3" cy="302.0" r="5.3" fill="#8244c7"/>
<circle cx="990.6" cy="215.0" r="5.3" fill="#008bfb"/>
<circle cx="908.9" cy="211.2" r="5.3" fill="#007bf4"/>
<circle cx="813.8" cy="298.8" r="5.3" fill="#0082f8"/>
<circle cx="362.0" cy="112.5" r="5.3" fill="#0088fa"/>
<circle cx="751.2" cy="203.6" r="5.3" fill="#a01fab"/>
<circle cx="781.0" cy="314.5" r="5.3" fill="#3968e7"/>
<circle cx="709.2" cy="112.4" r="5.3" fill="#aa17a7"/>
<circle cx="517.7" cy="207.4" r="5.3" fill="#ff0051"/>
<circle cx="903.1" cy="218.8" r="5.3" fill="#0076f1"/>
<circle cx="651.0" cy="211.2" r="5.3" fill="#dd0088"/>
<circle cx="735.8" cy="298.6" r="5.3" fill="#8f36bb"/>
<circle cx="801.9" cy="302.0" r="5.3" fill="#0079f3"/>
<circle cx="1028.4" cy="108.1" r="5.3" fill="#ff0051"/>
<circle cx="562.6" cy="112.4" r="5.3" fill="#6857d8"/>
<circle cx="810.9" cy="305.9" r="5.3" fill="#007ef6"/>
<circle cx="966.5" cy="196.0" r="5.3" fill="#0089fa"/>
<circle cx="794.6" cy="196.0" r="5.3" fill="#7f47c9"/>
<circle cx="916.3" cy="203.6" r="5.3" fill="#007cf5"/>
<circle cx="1190.2" cy="112.4" r="5.3" fill="#ff0051"/>
<circle cx="698.7" cy="302.0" r="5.3" fill="#c5009a"/>
<circle cx="474.1" cy="112.4" r="5.3" fill="#0074f0"/>
<circle cx="555.7" cy="203.6" r="5.3" fill="#ff0058"/>
<circle cx="797.1" cy="121.1" r="5.3" fill="#d6008e"/>
<circle cx="666.7" cy="207.4" r="5.3" fill="#d40090"/>
<circle cx="848.3" cy="203.6" r="5.3" fill="#575fdf"/>
<circle cx="747.9" cy="211.2" r="5.3" fill="#9a25ae"/>
<circle cx="670.5" cy="309.4" r="5.3" fill="#df0086"/>
<circle cx="798.5" cy="298.6" r="5.3" fill="#0074f0"/>
<circle cx="682.2" cy="116.7" r="5.3" fill="#9d22ac"/>
<circle cx="952.6" cy="103.7" r="5.3" fill="#ff0056"/>
<circle cx="794.4" cy="211.2" r="5.3" fill="#8542c5"/>
<circle cx="634.9" cy="196.0" r="5.3" fill="#e30082"/>
<circle cx="563.2" cy="203.6" r="5.3" fill="#fc0061"/>
<circle cx="754.1" cy="298.8" r="5.3" fill="#794cce"/>
<circle cx="600.9" cy="230.2" r="5.3" fill="#f4006e"/>
<circle cx="933.2" cy="121.1" r="5.3" fill="#fd005f"/>
<circle cx="673.9" cy="108.1" r="5.3" fill="#9a25ae"/>
<circle cx="661.9" cy="203.6" r="5.3" fill="#d9008c"/>
<circle cx="726.4" cy="203.6" r="5.3" fill="#aa17a7"/>
<circle cx="562.8" cy="215.0" r="5.3" fill="#fd005f"/>
<circle cx="670.1" cy="294.6" r="5.3" fill="#e30082"/>
<circle cx="864.0" cy="302.0" r="5.3" fill="#008bfb"/>
<circle cx="800.6" cy="211.2" r="5.3" fill="#8244c7"/>
<circle cx="554.2" cy="196.0" r="5.3" fill="#ff0056"/>
<circle cx="979.2" cy="112.4" r="5.3" fill="#ff0051"/>
<circle cx="751.2" cy="295.3" r="5.3" fill="#7d49cc"/>
<circle cx="690.5" cy="315.9" r="5.3" fill="#cd0095"/>
<circle cx="633.5" cy="196.0" r="5.3" fill="#e7007e"/>
<circle cx="533.6" cy="207.4" r="5.3" fill="#ff0053"/>
<circle cx="622.0" cy="288.4" r="5.3" fill="#ff0056"/>
<circle cx="837.7" cy="299.3" r="5.3" fill="#008bfb"/>
<circle cx="551.4" cy="215.0" r="5.3" fill="#ff005a"/>
<circle cx="813.5" cy="95.1" r="5.3" fill="#dd0088"/>
<circle cx="893.8" cy="203.6" r="5.3" fill="#0073ef"/>
<circle cx="549.1" cy="215.0" r="5.3" fill="#ff0056"/>
<circle cx="718.5" cy="302.0" r="5.3" fill="#a71aa9"/>
<circle cx="523.8" cy="103.7" r="5.3" fill="#4066e6"/>
<circle cx="883.9" cy="207.4" r="5.3" fill="#006fed"/>
<circle cx="847.0" cy="116.7" r="5.3" fill="#ec0078"/>
<circle cx="762.9" cy="121.1" r="5.3" fill="#c70098"/>
<circle cx="591.2" cy="215.0" r="5.3" fill="#f7006a"/>
<circle cx="908.6" cy="215.0" r="5.3" fill="#007bf4"/>
<circle cx="483.2" cy="103.7" r="5.3" fill="#0073ef"/>
<circle cx="836.9" cy="207.4" r="5.3" fill="#5b5ddd"/>
<circle cx="772.5" cy="284.3" r="5.3" fill="#5b5ddd"/>
<circle cx="807.1" cy="82.1" r="5.3" fill="#db008a"/>
<circle cx="569.8" cy="203.6" r="5.3" fill="#fd005f"/>
<circle cx="1078.4" cy="108.0" r="5.3" fill="#ff0051"/>
<circle cx="601.6" cy="218.8" r="5.3" fill="#f30070"/>
<circle cx="830.3" cy="207.4" r="5.3" fill="#6857d8"/>
<circle cx="627.0" cy="207.4" r="5.3" fill="#e50080"/>
<circle cx="683.5" cy="298.9" r="5.3" fill="#d10091"/>
<circle cx="806.7" cy="312.9" r="5.3" fill="#007cf5"/>
<circle cx="687.6" cy="308.2" r="5.3" fill="#cd0095"/>
<circle cx="745.2" cy="310.7" r="5.3" fill="#8542c5"/>
<circle cx="939.5" cy="207.4" r="5.3" fill="#0084f9"/>
<circle cx="685.6" cy="211.2" r="5.3" fill="#c5009a"/>
<circle cx="424.9" cy="129.7" r="5.3" fill="#0084f9"/>
<circle cx="933.6" cy="203.6" r="5.3" fill="#0082f8"/>
<circle cx="520.6" cy="211.2" r="5.3" fill="#ff0051"/>
<circle cx="745.9" cy="293.3" r="5.3" fill="#8244c7"/>
<circle cx="741.8" cy="309.3" r="5.3" fill="#8a3cc0"/>
<circle cx="485.5" cy="203.6" r="5.3" fill="#ff0053"/>
<circle cx="683.5" cy="286.4" r="5.3" fill="#d10091"/>
<circle cx="622.1" cy="316.1" r="5.3" fill="#ff0053"/>
<circle cx="813.4" cy="121.1" r="5.3" fill="#e10084"/>
<circle cx="647.3" cy="207.4" r="5.3" fill="#df0086"/>
<circle cx="476.5" cy="116.7" r="5.3" fill="#0076f1"/>
<circle cx="861.1" cy="207.4" r="5.3" fill="#4066e6"/>
<circle cx="598.6" cy="300.3" r="5.3" fill="#ff0053"/>
<circle cx="772.2" cy="319.7" r="5.3" fill="#5b5ddd"/>
<circle cx="832.4" cy="108.1" r="5.3" fill="#e7007e"/>
<circle cx="765.6" cy="125.4" r="5.3" fill="#ca0097"/>
<circle cx="736.5" cy="309.3" r="5.3" fill="#9233b9"/>
<circle cx="359.9" cy="116.1" r="5.3" fill="#0088fa"/>
<circle cx="762.7" cy="95.1" r="5.3" fill="#c5009a"/>
<circle cx="809.8" cy="203.6" r="5.3" fill="#764ed0"/>
<circle cx="572.0" cy="215.0" r="5.3" fill="#fa0065"/>
<circle cx="445.4" cy="121.1" r="5.3" fill="#007ef6"/>
<circle cx="762.3" cy="207.4" r="5.3" fill="#9829b1"/>
<circle cx="650.6" cy="312.3" r="5.3" fill="#f4006e"/>
<circle cx="791.4" cy="90.8" r="5.3" fill="#d6008e"/>
<circle cx="875.7" cy="203.6" r="5.3" fill="#186deb"/>
<circle cx="551.0" cy="211.2" r="5.3" fill="#ff0053"/>
<circle cx="744.2" cy="211.2" r="5.3" fill="#a01fab"/>
<circle cx="625.1" cy="230.2" r="5.3" fill="#eb007a"/>
<circle cx="961.1" cy="207.4" r="5.3" fill="#008bfb"/>
<circle cx="694.6" cy="121.1" r="5.3" fill="#a31daa"/>
<circle cx="507.2" cy="116.7" r="5.3" fill="#186deb"/>
<circle cx="399.8" cy="121.1" r="5.3" fill="#0088fa"/>
<circle cx="607.8" cy="199.8" r="5.3" fill="#ee0076"/>
<circle cx="828.0" cy="211.2" r="5.3" fill="#6857d8"/>
<circle cx="845.4" cy="215.0" r="5.3" fill="#5b5ddd"/>
<circle cx="690.2" cy="278.1" r="5.3" fill="#ca0097"/>
<circle cx="514.0" cy="121.1" r="5.3" fill="#306ae9"/>
<circle cx="700.4" cy="281.3" r="5.3" fill="#bc009f"/>
<circle cx="892.6" cy="215.0" r="5.3" fill="#0073ef"/>
<circle cx="740.7" cy="295.3" r="5.3" fill="#883fc2"/>
<circle cx="674.7" cy="329.7" r="5.3" fill="#df0086"/>
<circle cx="693.2" cy="291.6" r="5.3" fill="#ca0097"/>
<circle cx="547.2" cy="196.0" r="5.3" fill="#ff0056"/>
<circle cx="607.1" cy="188.4" r="5.3" fill="#f10072"/>
<circle cx="532.7" cy="222.6" r="5.3" fill="#ff0053"/>
<circle cx="947.8" cy="121.1" r="5.3" fill="#ff0058"/>
<circle cx="733.2" cy="207.4" r="5.3" fill="#a31daa"/>
<circle cx="794.7" cy="305.2" r="5.3" fill="#006fed"/>
<circle cx="670.2" cy="316.7" r="5.3" fill="#e30082"/>
<circle cx="883.8" cy="196.0" r="5.3" fill="#0071ee"/>
<circle cx="556.7" cy="121.1" r="5.3" fill="#6459da"/>
<circle cx="678.4" cy="199.8" r="5.3" fill="#ca0097"/>
<circle cx="705.5" cy="295.7" r="5.3" fill="#b604a2"/>
<circle cx="913.7" cy="112.4" r="5.3" fill="#fb0063"/>
<circle cx="830.9" cy="302.0" r="5.3" fill="#008bfb"/>
<circle cx="620.7" cy="226.4" r="5.3" fill="#ec0078"/>
<circle cx="694.7" cy="323.7" r="5.3" fill="#c70098"/>
<circle cx="874.9" cy="215.0" r="5.3" fill="#266cea"/>
<circle cx="945.2" cy="215.0" r="5.3" fill="#0086fa"/>
<circle cx="654.1" cy="99.4" r="5.3" fill="#962db3"/>
<circle cx="699.9" cy="284.8" r="5.3" fill="#c2009c"/>
<circle cx="598.4" cy="211.2" r="5.3" fill="#f4006e"/>
<circle cx="908.1" cy="125.4" r="5.3" fill="#f80067"/>
<circle cx="691.0" cy="312.4" r="5.3" fill="#cd0095"/>
<circle cx="990.6" cy="203.6" r="5.3" fill="#008bfb"/>
<circle cx="757.4" cy="203.6" r="5.3" fill="#9a25ae"/>
<circle cx="817.7" cy="302.0" r="5.3" fill="#0084f9"/>
<circle cx="663.5" cy="103.7" r="5.3" fill="#9430b6"/>
<circle cx="820.1" cy="99.4" r="5.3" fill="#e10084"/>
<circle cx="221.3" cy="112.4" r="5.3" fill="#0089fa"/>
<circle cx="372.9" cy="116.1" r="5.3" fill="#0088fa"/>
<circle cx="902.2" cy="199.8" r="5.3" fill="#0076f1"/>
<circle cx="644.7" cy="196.0" r="5.3" fill="#e10084"/>
<circle cx="785.3" cy="291.7" r="5.3" fill="#266cea"/>
<circle cx="832.6" cy="121.1" r="5.3" fill="#e30082"/>
<circle cx="650.4" cy="308.9" r="5.3" fill="#f4006e"/>
<circle cx="880.6" cy="302.1" r="5.3" fill="#008bfb"/>
<circle cx="566.0" cy="196.0" r="5.3" fill="#fe005c"/>
<circle cx="849.0" cy="192.2" r="5.3" fill="#4c63e3"/>
<circle cx="549.3" cy="218.8" r="5.3" fill="#ff0053"/>
<circle cx="650.7" cy="199.8" r="5.3" fill="#dd0088"/>
<circle cx="655.9" cy="307.8" r="5.3" fill="#f00074"/>
<circle cx="597.7" cy="203.6" r="5.3" fill="#f6006c"/>
<circle cx="888.1" cy="99.4" r="5.3" fill="#f7006a"/>
<circle cx="797.9" cy="305.6" r="5.3" fill="#0073ef"/>
<circle cx="608.0" cy="192.2" r="5.3" fill="#f10072"/>
<circle cx="797.8" cy="288.6" r="5.3" fill="#0074f0"/>
<circle cx="579.2" cy="192.2" r="5.3" fill="#f80067"/>
<circle cx="751.3" cy="291.9" r="5.3" fill="#794cce"/>
<circle cx="645.9" cy="211.2" r="5.3" fill="#dd0088"/>
<circle cx="824.5" cy="134.1" r="5.3" fill="#df0086"/>
<circle cx="623.8" cy="218.8" r="5.3" fill="#e9007c"/>
<circle cx="463.4" cy="112.4" r="5.3" fill="#0079f3"/>
<circle cx="676.3" cy="281.6" r="5.3" fill="#dd0088"/>
<circle cx="767.1" cy="312.6" r="5.3" fill="#605bdc"/>
<circle cx="872.9" cy="129.7" r="5.3" fill="#f10072"/>
<circle cx="823.2" cy="305.4" r="5.3" fill="#0088fa"/>
<circle cx="899.7" cy="99.4" r="5.3" fill="#f7006a"/>
<circle cx="917.7" cy="199.8" r="5.3" fill="#007ef6"/>
<circle cx="695.0" cy="295.1" r="5.3" fill="#c70098"/>
<circle cx="669.4" cy="199.8" r="5.3" fill="#d40090"/>
<circle cx="729.2" cy="215.0" r="5.3" fill="#a71aa9"/>
<circle cx="833.7" cy="298.6" r="5.3" fill="#008bfb"/>
<circle cx="831.8" cy="103.7" r="5.3" fill="#e30082"/>
<circle cx="970.1" cy="112.4" r="5.3" fill="#ff0051"/>
<circle cx="803.1" cy="292.3" r="5.3" fill="#0079f3"/>
<circle cx="578.3" cy="215.0" r="5.3" fill="#fa0065"/>
<circle cx="531.2" cy="196.0" r="5.3" fill="#ff0051"/>
<circle cx="801.8" cy="305.2" r="5.3" fill="#0076f1"/>
<circle cx="665.6" cy="309.7" r="5.3" fill="#e7007e"/>
<circle cx="780.6" cy="286.4" r="5.3" fill="#4664e4"/>
<circle cx="650.6" cy="196.0" r="5.3" fill="#df0086"/>
<circle cx="594.5" cy="222.6" r="5.3" fill="#f4006e"/>
<circle cx="585.9" cy="121.1" r="5.3" fill="#7350d2"/>
<circle cx="870.5" cy="103.7" r="5.3" fill="#ee0076"/>
<circle cx="931.8" cy="211.2" r="5.3" fill="#007ff7"/>
<circle cx="579.1" cy="211.2" r="5.3" fill="#fb0063"/>
<circle cx="778.4" cy="99.4" r="5.3" fill="#cf0093"/>
<circle cx="763.6" cy="196.0" r="5.3" fill="#9829b1"/>
<circle cx="540.1" cy="199.8" r="5.3" fill="#ff0051"/>
<circle cx="651.9" cy="295.3" r="5.3" fill="#f30070"/>
<circle cx="673.5" cy="211.2" r="5.3" fill="#d10091"/>
<circle cx="685.7" cy="196.0" r="5.3" fill="#c5009a"/>
<circle cx="811.1" cy="188.4" r="5.3" fill="#794cce"/>
<circle cx="674.9" cy="125.4" r="5.3" fill="#9a25ae"/>
<circle cx="403.0" cy="108.1" r="5.3" fill="#008bfb"/>
<circle cx="651.1" cy="302.0" r="5.3" fill="#f30070"/>
<circle cx="819.9" cy="196.0" r="5.3" fill="#6f52d4"/>
<circle cx="537.4" cy="207.4" r="5.3" fill="#ff0053"/>
<circle cx="312.8" cy="111.0" r="5.3" fill="#0089fa"/>
<circle cx="550.4" cy="192.2" r="5.3" fill="#ff005a"/>
<circle cx="710.9" cy="196.0" r="5.3" fill="#bc009f"/>
<circle cx="633.4" cy="305.4" r="5.3" fill="#fd005f"/>
<circle cx="694.6" cy="305.1" r="5.3" fill="#c5009a"/>
<circle cx="582.6" cy="199.8" r="5.3" fill="#f80067"/>
<circle cx="695.8" cy="318.0" r="5.3" fill="#c5009a"/>
<circle cx="690.2" cy="291.8" r="5.3" fill="#cd0095"/>
<circle cx="886.8" cy="134.1" r="5.3" fill="#f6006c"/>
<circle cx="831.0" cy="299.1" r="5.3" fill="#0089fa"/>
<circle cx="662.3" cy="207.4" r="5.3" fill="#d40090"/>
<circle cx="628.6" cy="196.0" r="5.3" fill="#e50080"/>
<circle cx="584.6" cy="222.6" r="5.3" fill="#f6006c"/>
<circle cx="702.3" cy="285.0" r="5.3" fill="#bc009f"/>
<circle cx="674.5" cy="285.0" r="5.3" fill="#df0086"/>
<circle cx="651.5" cy="203.6" r="5.3" fill="#df0086"/>
<circle cx="824.4" cy="296.2" r="5.3" fill="#0086fa"/>
<circle cx="646.3" cy="203.6" r="5.3" fill="#e10084"/>
<circle cx="491.8" cy="103.7" r="5.3" fill="#0073ef"/>
<circle cx="744.6" cy="304.9" r="5.3" fill="#8542c5"/>
<circle cx="701.5" cy="308.8" r="5.3" fill="#bc009f"/>
<circle cx="592.9" cy="302.0" r="5.3" fill="#ff0051"/>
<circle cx="785.3" cy="295.1" r="5.3" fill="#266cea"/>
<circle cx="899.4" cy="95.1" r="5.3" fill="#fa0065"/>
<circle cx="972.8" cy="207.4" r="5.3" fill="#0089fa"/>
<circle cx="763.3" cy="199.8" r="5.3" fill="#9233b9"/>
<circle cx="622.5" cy="285.0" r="5.3" fill="#ff0056"/>
<circle cx="798.8" cy="302.0" r="5.3" fill="#0076f1"/>
<circle cx="850.9" cy="305.7" r="5.3" fill="#0089fa"/>
<circle cx="895.0" cy="112.4" r="5.3" fill="#f7006a"/>
<circle cx="914.8" cy="103.7" r="5.3" fill="#fb0063"/>
<circle cx="537.0" cy="116.7" r="5.3" fill="#4664e4"/>
<circle cx="688.9" cy="116.7" r="5.3" fill="#a31daa"/>
<circle cx="680.2" cy="302.0" r="5.3" fill="#db008a"/>
<circle cx="691.8" cy="274.7" r="5.3" fill="#ca0097"/>
<circle cx="908.2" cy="207.4" r="5.3" fill="#0077f2"/>
<circle cx="632.2" cy="298.8" r="5.3" fill="#fc0061"/>
<circle cx="536.2" cy="196.0" r="5.3" fill="#ff0051"/>
<circle cx="816.7" cy="307.7" r="5.3" fill="#0084f9"/>
<circle cx="683.0" cy="295.8" r="5.3" fill="#d9008c"/>
<circle cx="636.3" cy="199.8" r="5.3" fill="#e10084"/>
<circle cx="723.4" cy="199.8" r="5.3" fill="#b30aa3"/>
<circle cx="805.2" cy="108.1" r="5.3" fill="#d9008c"/>
<circle cx="627.3" cy="302.0" r="5.3" fill="#fe005c"/>
<circle cx="700.2" cy="324.7" r="5.3" fill="#bf009d"/>
<circle cx="775.1" cy="203.6" r="5.3" fill="#9233b9"/>
<circle cx="780.5" cy="302.0" r="5.3" fill="#4664e4"/>
<circle cx="497.2" cy="103.7" r="5.3" fill="#266cea"/>
<circle cx="543.9" cy="203.6" r="5.3" fill="#ff0053"/>
<circle cx="705.4" cy="317.7" r="5.3" fill="#bc009f"/>
<circle cx="930.9" cy="116.7" r="5.3" fill="#fe005c"/>
<circle cx="758.1" cy="112.4" r="5.3" fill="#ca0097"/>
<circle cx="844.5" cy="199.8" r="5.3" fill="#5261e1"/>
<circle cx="781.4" cy="298.9" r="5.3" fill="#3968e7"/>
<circle cx="697.1" cy="321.2" r="5.3" fill="#c5009a"/>
<circle cx="825.6" cy="203.6" r="5.3" fill="#6f52d4"/>
<circle cx="805.1" cy="86.4" r="5.3" fill="#d9008c"/>
<circle cx="615.4" cy="302.0" r="5.3" fill="#ff0051"/>
<circle cx="596.1" cy="188.4" r="5.3" fill="#f6006c"/>
<circle cx="754.5" cy="292.3" r="5.3" fill="#764ed0"/>
<circle cx="690.7" cy="302.0" r="5.3" fill="#cf0093"/>
<circle cx="615.5" cy="112.4" r="5.3" fill="#8244c7"/>
<circle cx="678.3" cy="192.2" r="5.3" fill="#cd0095"/>
<circle cx="607.8" cy="215.0" r="5.3" fill="#ee0076"/>
<circle cx="494.3" cy="108.1" r="5.3" fill="#186deb"/>
<circle cx="675.0" cy="295.2" r="5.3" fill="#db008a"/>
<circle cx="850.1" cy="99.4" r="5.3" fill="#e9007c"/>
<circle cx="519.8" cy="112.4" r="5.3" fill="#306ae9"/>
<circle cx="679.6" cy="308.6" r="5.3" fill="#d9008c"/>
<circle cx="646.9" cy="308.7" r="5.3" fill="#f4006e"/>
<circle cx="785.2" cy="302.0" r="5.3" fill="#4066e6"/>
<circle cx="543.9" cy="103.7" r="5.3" fill="#575fdf"/>
<circle cx="573.8" cy="211.2" r="5.3" fill="#fa0065"/>
<circle cx="896.5" cy="218.8" r="5.3" fill="#0076f1"/>
<circle cx="843.9" cy="207.4" r="5.3" fill="#575fdf"/>
<circle cx="460.3" cy="112.4" r="5.3" fill="#0077f2"/>
<circle cx="810.6" cy="222.6" r="5.3" fill="#7350d2"/>
<circle cx="291.5" cy="108.0" r="5.3" fill="#0089fa"/>
<circle cx="534.9" cy="103.7" r="5.3" fill="#5261e1"/>
<circle cx="745.2" cy="299.1" r="5.3" fill="#883fc2"/>
<circle cx="572.7" cy="222.6" r="5.3" fill="#fc0061"/>
<circle cx="701.9" cy="315.6" r="5.3" fill="#bc009f"/>
<circle cx="879.3" cy="108.1" r="5.3" fill="#f30070"/>
<circle cx="846.6" cy="90.8" r="5.3" fill="#e9007c"/>
<circle cx="857.2" cy="99.4" r="5.3" fill="#eb007a"/>
<circle cx="762.1" cy="125.4" r="5.3" fill="#c70098"/>
<circle cx="589.6" cy="192.2" r="5.3" fill="#f6006c"/>
<circle cx="784.9" cy="116.7" r="5.3" fill="#d10091"/>
<circle cx="806.4" cy="129.7" r="5.3" fill="#db008a"/>
<circle cx="699.9" cy="318.2" r="5.3" fill="#bf009d"/>
<circle cx="876.8" cy="196.0" r="5.3" fill="#006fed"/>
<circle cx="771.6" cy="298.5" r="5.3" fill="#605bdc"/>
<circle cx="776.4" cy="121.1" r="5.3" fill="#cd0095"/>
<circle cx="901.4" cy="125.4" r="5.3" fill="#f6006c"/>
<circle cx="597.5" cy="116.7" r="5.3" fill="#794cce"/>
<circle cx="447.8" cy="99.4" r="5.3" fill="#007cf5"/>
<circle cx="664.8" cy="215.0" r="5.3" fill="#d40090"/>
<circle cx="673.6" cy="196.0" r="5.3" fill="#cf0093"/>
<circle cx="556.0" cy="226.4" r="5.3" fill="#fe005c"/>
<circle cx="387.5" cy="108.1" r="5.3" fill="#0088fa"/>
<circle cx="827.5" cy="121.1" r="5.3" fill="#e30082"/>
<circle cx="626.7" cy="305.9" r="5.3" fill="#ff0058"/>
<circle cx="766.3" cy="207.4" r="5.3" fill="#9233b9"/>
<circle cx="790.8" cy="292.5" r="5.3" fill="#266cea"/>
<circle cx="823.2" cy="293.3" r="5.3" fill="#0085f9"/>
<circle cx="583.2" cy="218.8" r="5.3" fill="#f7006a"/>
<circle cx="545.1" cy="207.4" r="5.3" fill="#ff0053"/>
<circle cx="816.5" cy="129.7" r="5.3" fill="#dd0088"/>
<circle cx="706.3" cy="305.1" r="5.3" fill="#b604a2"/>
<circle cx="803.2" cy="311.7" r="5.3" fill="#0076f1"/>
<circle cx="667.2" cy="292.9" r="5.3" fill="#e30082"/>
<circle cx="873.8" cy="116.7" r="5.3" fill="#f30070"/>
<circle cx="466.5" cy="108.1" r="5.3" fill="#0079f3"/>
<circle cx="642.6" cy="112.4" r="5.3" fill="#9233b9"/>
<circle cx="578.9" cy="226.4" r="5.3" fill="#f80067"/>
<circle cx="641.4" cy="299.2" r="5.3" fill="#fa0065"/>
<circle cx="551.9" cy="116.7" r="5.3" fill="#575fdf"/>
<circle cx="903.6" cy="134.1" r="5.3" fill="#fa0065"/>
<circle cx="519.9" cy="108.1" r="5.3" fill="#3968e7"/>
<circle cx="744.6" cy="307.8" r="5.3" fill="#883fc2"/>
<circle cx="875.0" cy="207.4" r="5.3" fill="#306ae9"/>
<circle cx="817.6" cy="304.9" r="5.3" fill="#0082f8"/>
<circle cx="806.0" cy="305.6" r="5.3" fill="#007bf4"/>
<circle cx="633.4" cy="308.9" r="5.3" fill="#fe005c"/>
<circle cx="903.1" cy="112.4" r="5.3" fill="#fa0065"/>
<circle cx="891.8" cy="129.7" r="5.3" fill="#f7006a"/>
<circle cx="879.6" cy="90.8" r="5.3" fill="#f4006e"/>
<circle cx="602.8" cy="298.3" r="5.3" fill="#ff0053"/>
<circle cx="693.5" cy="308.2" r="5.3" fill="#c70098"/>
<circle cx="592.3" cy="103.7" r="5.3" fill="#764ed0"/>
<circle cx="709.5" cy="108.1" r="5.3" fill="#ad13a6"/>
<circle cx="1039.0" cy="207.4" r="5.3" fill="#0089fa"/>
<circle cx="530.7" cy="192.2" r="5.3" fill="#ff0051"/>
<circle cx="677.2" cy="116.7" r="5.3" fill="#9d22ac"/>
<circle cx="886.9" cy="203.6" r="5.3" fill="#0073ef"/>
<circle cx="675.2" cy="302.0" r="5.3" fill="#db008a"/>
<circle cx="648.3" cy="215.0" r="5.3" fill="#df0086"/>
<circle cx="697.5" cy="207.4" r="5.3" fill="#c2009c"/>
<circle cx="440.5" cy="121.1" r="5.3" fill="#007ef6"/>
<circle cx="949.9" cy="103.7" r="5.3" fill="#ff0056"/>
<circle cx="786.7" cy="103.7" r="5.3" fill="#d6008e"/>
<circle cx="816.4" cy="99.4" r="5.3" fill="#e10084"/>
<circle cx="780.7" cy="317.6" r="5.3" fill="#4066e6"/>
<circle cx="597.7" cy="108.1" r="5.3" fill="#794cce"/>
<circle cx="891.6" cy="86.4" r="5.3" fill="#f4006e"/>
<circle cx="777.1" cy="319.7" r="5.3" fill="#5261e1"/>
<circle cx="706.5" cy="302.0" r="5.3" fill="#b900a0"/>
<circle cx="865.0" cy="116.7" r="5.3" fill="#f00074"/>
<circle cx="1046.8" cy="207.4" r="5.3" fill="#0089fa"/>
<circle cx="729.1" cy="298.6" r="5.3" fill="#9829b1"/>
<circle cx="827.2" cy="291.4" r="5.3" fill="#0089fa"/>
<circle cx="828.0" cy="287.9" r="5.3" fill="#0089fa"/>
<circle cx="815.1" cy="215.0" r="5.3" fill="#6f52d4"/>
<circle cx="499.8" cy="108.1" r="5.3" fill="#006fed"/>
<circle cx="669.1" cy="103.7" r="5.3" fill="#9829b1"/>
<circle cx="366.0" cy="116.3" r="5.3" fill="#0088fa"/>
<circle cx="634.0" cy="108.1" r="5.3" fill="#8a3cc0"/>
<circle cx="897.3" cy="121.1" r="5.3" fill="#f6006c"/>
<circle cx="851.4" cy="207.4" r="5.3" fill="#4c63e3"/>
<circle cx="911.5" cy="215.0" r="5.3" fill="#007bf4"/>
<circle cx="763.0" cy="313.7" r="5.3" fill="#6c54d6"/>
<circle cx="895.0" cy="125.4" r="5.3" fill="#f7006a"/>
<circle cx="735.8" cy="108.1" r="5.3" fill="#bf009d"/>
<circle cx="852.6" cy="95.1" r="5.3" fill="#e9007c"/>
<circle cx="952.5" cy="207.4" r="5.3" fill="#0086fa"/>
<circle cx="660.4" cy="207.4" r="5.3" fill="#d9008c"/>
<circle cx="506.5" cy="199.8" r="5.3" fill="#ff0053"/>
<circle cx="846.0" cy="86.4" r="5.3" fill="#e7007e"/>
<circle cx="607.1" cy="226.4" r="5.3" fill="#f10072"/>
<circle cx="922.4" cy="112.4" r="5.3" fill="#fb0063"/>
<circle cx="858.1" cy="196.0" r="5.3" fill="#4664e4"/>
<circle cx="717.5" cy="382.9" r="5.3" fill="#0081f7"/>
<circle cx="720.7" cy="382.9" r="5.3" fill="#0085f9"/>
<circle cx="723.9" cy="382.9" r="5.3" fill="#0081f7"/>
<circle cx="716.5" cy="385.3" r="5.3" fill="#0086fa"/>
<circle cx="719.2" cy="385.3" r="5.3" fill="#0084f9"/>
<circle cx="721.9" cy="385.3" r="5.3" fill="#008bfb"/>
<circle cx="724.7" cy="385.3" r="5.3" fill="#0081f7"/>
<circle cx="715.4" cy="387.7" r="5.3" fill="#0085f9"/>
<circle cx="718.5" cy="387.7" r="5.3" fill="#0089fa"/>
<circle cx="721.6" cy="387.7" r="5.3" fill="#0081f7"/>
<circle cx="724.8" cy="387.7" r="5.3" fill="#0085f9"/>
<circle cx="714.4" cy="390.1" r="5.3" fill="#0086fa"/>
<circle cx="717.2" cy="390.1" r="5.3" fill="#0084f9"/>
<circle cx="720.0" cy="390.1" r="5.3" fill="#0084f9"/>
<circle cx="722.8" cy="390.1" r="5.3" fill="#0088fa"/>
<circle cx="713.3" cy="392.5" r="5.3" fill="#0089fa"/>
<circle cx="715.9" cy="392.5" r="5.3" fill="#0082f8"/>
<circle cx="718.6" cy="392.5" r="5.3" fill="#0088fa"/>
<circle cx="721.2" cy="392.5" r="5.3" fill="#0089fa"/>
<circle cx="723.9" cy="392.5" r="5.3" fill="#0089fa"/>
<circle cx="712.3" cy="394.9" r="5.3" fill="#0088fa"/>
<circle cx="715.3" cy="394.9" r="5.3" fill="#0085f9"/>
<circle cx="718.2" cy="394.9" r="5.3" fill="#0088fa"/>
<circle cx="721.2" cy="394.9" r="5.3" fill="#0081f7"/>
<circle cx="724.2" cy="394.9" r="5.3" fill="#0084f9"/>
<circle cx="711.2" cy="397.3" r="5.3" fill="#0085f9"/>
<circle cx="714.0" cy="397.3" r="5.3" fill="#008bfb"/>
<circle cx="716.7" cy="397.3" r="5.3" fill="#0084f9"/>
<circle cx="719.5" cy="397.3" r="5.3" fill="#0088fa"/>
<circle cx="722.3" cy="397.3" r="5.3" fill="#0088fa"/>
<circle cx="725.1" cy="397.3" r="5.3" fill="#0084f9"/>
<circle cx="712.4" cy="399.7" r="5.3" fill="#0084f9"/>
<circle cx="715.4" cy="399.7" r="5.3" fill="#0088fa"/>
<circle cx="718.4" cy="399.7" r="5.3" fill="#0081f7"/>
<circle cx="721.4" cy="399.7" r="5.3" fill="#0089fa"/>
<circle cx="724.4" cy="399.7" r="5.3" fill="#0082f8"/>
<circle cx="713.7" cy="402.1" r="5.3" fill="#008bfb"/>
<circle cx="716.8" cy="402.1" r="5.3" fill="#0088fa"/>
<circle cx="719.8" cy="402.1" r="5.3" fill="#0084f9"/>
<circle cx="722.9" cy="402.1" r="5.3" fill="#0088fa"/>
<circle cx="715.2" cy="404.5" r="5.3" fill="#0086fa"/>
<circle cx="716.5" cy="406.9" r="5.3" fill="#0089fa"/>
<circle cx="724.1" cy="371.0" r="5.3" fill="#764ed0"/>
<circle cx="721.7" cy="373.4" r="5.3" fill="#8d39be"/>
<circle cx="720.7" cy="375.8" r="5.3" fill="#9233b9"/>
<circle cx="723.3" cy="375.8" r="5.3" fill="#9d22ac"/>
<circle cx="719.6" cy="378.2" r="5.3" fill="#8a3cc0"/>
<circle cx="722.9" cy="378.2" r="5.3" fill="#b00fa5"/>
<circle cx="718.6" cy="380.6" r="5.3" fill="#aa17a7"/>
<circle cx="721.3" cy="380.6" r="5.3" fill="#b00fa5"/>
<circle cx="723.9" cy="380.6" r="5.3" fill="#a01fab"/>
<circle cx="717.9" cy="404.5" r="5.3" fill="#883fc2"/>
<circle cx="720.6" cy="404.5" r="5.3" fill="#794cce"/>
<circle cx="723.3" cy="404.5" r="5.3" fill="#8542c5"/>
<circle cx="719.4" cy="406.9" r="5.3" fill="#8f36bb"/>
<circle cx="722.4" cy="406.9" r="5.3" fill="#9233b9"/>
<circle cx="717.1" cy="409.3" r="5.3" fill="#7350d2"/>
<circle cx="719.8" cy="409.3" r="5.3" fill="#764ed0"/>
<circle cx="722.5" cy="409.3" r="5.3" fill="#883fc2"/>
<circle cx="725.1" cy="409.3" r="5.3" fill="#7d49cc"/>
<circle cx="717.9" cy="411.6" r="5.3" fill="#6857d8"/>
<circle cx="721.0" cy="411.6" r="5.3" fill="#7d49cc"/>
<circle cx="724.1" cy="411.6" r="5.3" fill="#8d39be"/>
<circle cx="718.8" cy="414.0" r="5.3" fill="#7f47c9"/>
<circle cx="721.5" cy="414.0" r="5.3" fill="#6857d8"/>
<circle cx="724.1" cy="414.0" r="5.3" fill="#6c54d6"/>
<circle cx="719.8" cy="416.4" r="5.3" fill="#8d39be"/>
<circle cx="723.0" cy="416.4" r="5.3" fill="#8d39be"/>
<circle cx="721.4" cy="418.8" r="5.3" fill="#8f36bb"/>
<circle cx="726.2" cy="378.2" r="5.3" fill="#fd005f"/>
<circle cx="725.6" cy="373.4" r="5.3" fill="#ff005a"/>
<circle cx="730.4" cy="399.7" r="5.3" fill="#fe005c"/>
<circle cx="727.4" cy="399.7" r="5.3" fill="#ff0051"/>
<circle cx="727.0" cy="382.9" r="5.3" fill="#fb0063"/>
<circle cx="729.1" cy="402.1" r="5.3" fill="#fb0063"/>
<circle cx="727.9" cy="387.7" r="5.3" fill="#ff0056"/>
<circle cx="725.7" cy="418.8" r="5.3" fill="#fa0065"/>
<circle cx="725.4" cy="406.9" r="5.3" fill="#ff0053"/>
<circle cx="727.8" cy="397.3" r="5.3" fill="#fd005f"/>
<circle cx="726.0" cy="404.5" r="5.3" fill="#fb0063"/>
<circle cx="728.4" cy="390.1" r="5.3" fill="#ff0053"/>
<circle cx="726.0" cy="402.1" r="5.3" fill="#ff005a"/>
<circle cx="726.8" cy="414.0" r="5.3" fill="#fc0061"/>
<circle cx="730.2" cy="394.9" r="5.3" fill="#fb0063"/>
<circle cx="726.3" cy="416.4" r="5.3" fill="#fc0061"/>
<circle cx="726.6" cy="380.6" r="5.3" fill="#fe005c"/>
<circle cx="727.3" cy="411.6" r="5.3" fill="#ff005a"/>
<circle cx="728.3" cy="406.9" r="5.3" fill="#ff005a"/>
<circle cx="727.8" cy="409.3" r="5.3" fill="#ff0053"/>
<circle cx="725.6" cy="390.1" r="5.3" fill="#fc0061"/>
<circle cx="733.4" cy="397.3" r="5.3" fill="#fb0063"/>
<circle cx="730.6" cy="397.3" r="5.3" fill="#ff005a"/>
<circle cx="727.2" cy="394.9" r="5.3" fill="#fb0063"/>
<circle cx="729.1" cy="392.5" r="5.3" fill="#ff0051"/>
<circle cx="727.4" cy="385.3" r="5.3" fill="#fb0063"/>
<circle cx="725.9" cy="375.8" r="5.3" fill="#fd005f"/>
<circle cx="726.5" cy="392.5" r="5.3" fill="#ff0056"/>
<circle cx="728.7" cy="404.5" r="5.3" fill="#ff0056"/>
<circle cx="722.6" cy="398.2" r="5.3" fill="#8a3cc0"/>
<circle cx="721.6" cy="404.5" r="5.3" fill="#a31daa"/>
<circle cx="720.3" cy="409.8" r="5.3" fill="#794cce"/>
<circle cx="719.5" cy="415.7" r="5.3" fill="#6857d8"/>
<circle cx="724.8" cy="366.2" r="5.3" fill="#d40090"/>
<circle cx="724.4" cy="368.6" r="5.3" fill="#cd0095"/>
<circle cx="724.2" cy="421.2" r="5.3" fill="#cf0093"/>
<circle cx="724.3" cy="423.6" r="5.3" fill="#d40090"/>
<circle cx="724.3" cy="426.0" r="5.3" fill="#ca0097"/>
<circle cx="724.3" cy="428.4" r="5.3" fill="#d40090"/>
<circle cx="733.4" cy="397.3" r="5.3" fill="#ff0053"/>
<circle cx="711.2" cy="397.3" r="5.3" fill="#0089fa"/>
<circle cx="721.2" cy="476.0" r="5.3" fill="#fa0065"/>
<circle cx="723.6" cy="473.0" r="5.3" fill="#6459da"/>
<circle cx="721.2" cy="479.0" r="5.3" fill="#fb0063"/>
<circle cx="723.6" cy="476.0" r="5.3" fill="#6f52d4"/>
<circle cx="721.2" cy="482.0" r="5.3" fill="#fb0063"/>
<circle cx="723.6" cy="479.0" r="5.3" fill="#6c54d6"/>
<circle cx="721.2" cy="485.0" r="5.3" fill="#fd005f"/>
<circle cx="723.6" cy="482.0" r="5.3" fill="#575fdf"/>
<circle cx="721.2" cy="488.0" r="5.3" fill="#ff005a"/>
<circle cx="723.6" cy="485.0" r="5.3" fill="#4066e6"/>
<circle cx="721.2" cy="491.0" r="5.3" fill="#fb0063"/>
<circle cx="723.6" cy="488.0" r="5.3" fill="#8244c7"/>
<circle cx="721.2" cy="494.0" r="5.3" fill="#fd005f"/>
<circle cx="723.6" cy="491.0" r="5.3" fill="#7d49cc"/>
<circle cx="721.2" cy="497.0" r="5.3" fill="#ff0056"/>
<circle cx="723.6" cy="494.0" r="5.3" fill="#6459da"/>
<circle cx="721.2" cy="500.0" r="5.3" fill="#fb0063"/>
<circle cx="723.6" cy="497.0" r="5.3" fill="#3968e7"/>
<circle cx="721.2" cy="503.0" r="5.3" fill="#ff0056"/>
<circle cx="723.6" cy="500.0" r="5.3" fill="#3968e7"/>
<circle cx="721.2" cy="506.0" r="5.3" fill="#fe005c"/>
<circle cx="723.6" cy="503.0" r="5.3" fill="#6857d8"/>
<circle cx="721.2" cy="509.0" r="5.3" fill="#fb0063"/>
<circle cx="723.6" cy="506.0" r="5.3" fill="#605bdc"/>
<circle cx="721.2" cy="512.0" r="5.3" fill="#fb0063"/>
<circle cx="723.6" cy="509.0" r="5.3" fill="#6857d8"/>
<circle cx="718.9" cy="492.8" r="5.3" fill="#ff0053"/>
<circle cx="725.4" cy="492.8" r="5.3" fill="#0086fa"/>
<circle cx="724.6" cy="489.8" r="5.3" fill="#007cf5"/>
<circle cx="724.6" cy="495.8" r="5.3" fill="#007cf5"/>
<circle cx="722.1" cy="460.9" r="5.3" fill="#b00fa5"/>
<circle cx="722.1" cy="463.9" r="5.3" fill="#b00fa5"/>
<circle cx="722.1" cy="466.9" r="5.3" fill="#b00fa5"/>
<circle cx="722.1" cy="469.9" r="5.3" fill="#b00fa5"/>
<circle cx="722.1" cy="472.9" r="5.3" fill="#b00fa5"/>
<circle cx="722.1" cy="475.9" r="5.3" fill="#b00fa5"/>
<circle cx="722.1" cy="478.9" r="5.3" fill="#b00fa5"/>
<circle cx="722.1" cy="481.9" r="5.3" fill="#b00fa5"/>
<circle cx="722.1" cy="484.9" r="5.3" fill="#b00fa5"/>
<circle cx="722.1" cy="487.9" r="5.3" fill="#b00fa5"/>
<circle cx="722.1" cy="490.9" r="5.3" fill="#b00fa5"/>
<circle cx="722.1" cy="493.9" r="5.3" fill="#b00fa5"/>
<circle cx="722.1" cy="496.9" r="5.3" fill="#b00fa5"/>
<circle cx="722.1" cy="499.9" r="5.3" fill="#b00fa5"/>
<circle cx="722.1" cy="502.9" r="5.3" fill="#b00fa5"/>
<circle cx="722.1" cy="505.9" r="5.3" fill="#b00fa5"/>
<circle cx="722.1" cy="508.9" r="5.3" fill="#b00fa5"/>
<circle cx="722.1" cy="511.9" r="5.3" fill="#b00fa5"/>
<circle cx="722.1" cy="514.9" r="5.3" fill="#b00fa5"/>
<circle cx="722.1" cy="517.9" r="5.3" fill="#b00fa5"/>
<circle cx="722.1" cy="520.9" r="5.3" fill="#b00fa5"/>
<circle cx="722.1" cy="521.4" r="5.3" fill="#b00fa5"/>
<circle cx="722.1" cy="473.0" r="5.3" fill="#962db3"/>
<circle cx="722.1" cy="479.5" r="5.3" fill="#6f52d4"/>
<circle cx="722.1" cy="488.5" r="5.3" fill="#bf009d"/>
<circle cx="722.1" cy="498.6" r="5.3" fill="#6857d8"/>
<circle cx="722.1" cy="517.8" r="5.3" fill="#b30aa3"/>
<circle cx="722.1" cy="521.4" r="5.3" fill="#b00fa5"/>
<circle cx="722.1" cy="510.6" r="5.3" fill="#e9007c"/>
<defs><linearGradient id="cb" x1="0" y1="0" x2="0" y2="1"><stop offset="0.0000" stop-color="#ff0051"/><stop offset="0.0303" stop-color="#ff0058"/><stop offset="0.0606" stop-color="#fd005f"/><stop offset="0.0909" stop-color="#fa0065"/><stop offset="0.1212" stop-color="#f6006c"/><stop offset="0.1515" stop-color="#f10072"/><stop offset="0.1818" stop-color="#ec0078"/><stop offset="0.2121" stop-color="#e7007e"/><stop offset="0.2424" stop-color="#e10084"/><stop offset="0.2727" stop-color="#db008a"/><stop offset="0.3030" stop-color="#d40090"/><stop offset="0.3333" stop-color="#cd0095"/><stop offset="0.3636" stop-color="#c5009a"/><stop offset="0.3939" stop-color="#bc009f"/><stop offset="0.4242" stop-color="#b30aa3"/><stop offset="0.4545" stop-color="#aa17a7"/><stop offset="0.4848" stop-color="#a01fab"/><stop offset="0.5152" stop-color="#9829b1"/><stop offset="0.5455" stop-color="#9233b9"/><stop offset="0.5758" stop-color="#8a3cc0"/><stop offset="0.6061" stop-color="#8244c7"/><stop offset="0.6364" stop-color="#794cce"/><stop offset="0.6667" stop-color="#6f52d4"/><stop offset="0.6970" stop-color="#6459da"/><stop offset="0.7273" stop-color="#575fdf"/><stop offset="0.7576" stop-color="#4664e4"/><stop offset="0.7879" stop-color="#306ae9"/><stop offset="0.8182" stop-color="#006fed"/><stop offset="0.8485" stop-color="#0074f0"/><stop offset="0.8788" stop-color="#0079f3"/><stop offset="0.9091" stop-color="#007ef6"/><stop offset="0.9394" stop-color="#0082f8"/><stop offset="0.9697" stop-color="#0086fa"/><stop offset="1.0000" stop-color="#008bfb"/></linearGradient></defs>
<rect x="1305.8" y="17.7" width="7.2" height="569.4" fill="url(#cb)"/>
<g style="opacity:0.999"><!--TEXTSTART-->
<text transform="translate(32.26,127.00) scale(0.8575,1)" font-size="40.6" fill="#333">MCV</text>
<text transform="translate(29.48,221.30) scale(0.8529,1)" font-size="40.6" fill="#333">MCH</text>
<text transform="translate(63.69,316.00) scale(0.8479,1)" font-size="40.6" fill="#333">Hb</text>
<text transform="translate(3.77,411.80) scale(0.8536,1)" font-size="40.6" fill="#333">MCHC</text>
<text transform="translate(33.81,506.10) scale(0.8412,1)" font-size="40.6" fill="#333">RBC</text>
<text transform="translate(168.93,631.30) scale(0.8789,1)" font-size="33.4" fill="#333">−100</text>
<text transform="translate(307.44,631.30) scale(0.8707,1)" font-size="33.4" fill="#333">−75</text>
<text transform="translate(437.14,631.30) scale(0.8703,1)" font-size="33.4" fill="#333">−50</text>
<text transform="translate(567.43,631.30) scale(0.8762,1)" font-size="33.4" fill="#333">−25</text>
<text transform="translate(714.55,631.30) scale(0.9364,1)" font-size="33.4" fill="#333">0</text>
<text transform="translate(837.33,631.30) scale(0.8668,1)" font-size="33.4" fill="#333">25</text>
<text transform="translate(966.35,631.30) scale(0.8435,1)" font-size="33.4" fill="#333">50</text>
<text transform="translate(1097.55,631.30) scale(0.8608,1)" font-size="33.4" fill="#333">75</text>
<text transform="translate(391.74,677.00) scale(0.8680,1)" font-size="40.6" fill="#333">SHAP value (impact on model output)</text>
<text transform="translate(1321.92,29.50) scale(0.8739,1)" font-size="34.0" fill="#222">High</text>
<text transform="translate(1321.97,599.30) scale(0.8549,1)" font-size="34.0" fill="#222">Low</text>
<text transform="translate(1411.8,416.36) rotate(-90) scale(1.0200,1)" font-size="34.5" fill="#333">Feature value</text>
</g>
</svg>
</body></html>
